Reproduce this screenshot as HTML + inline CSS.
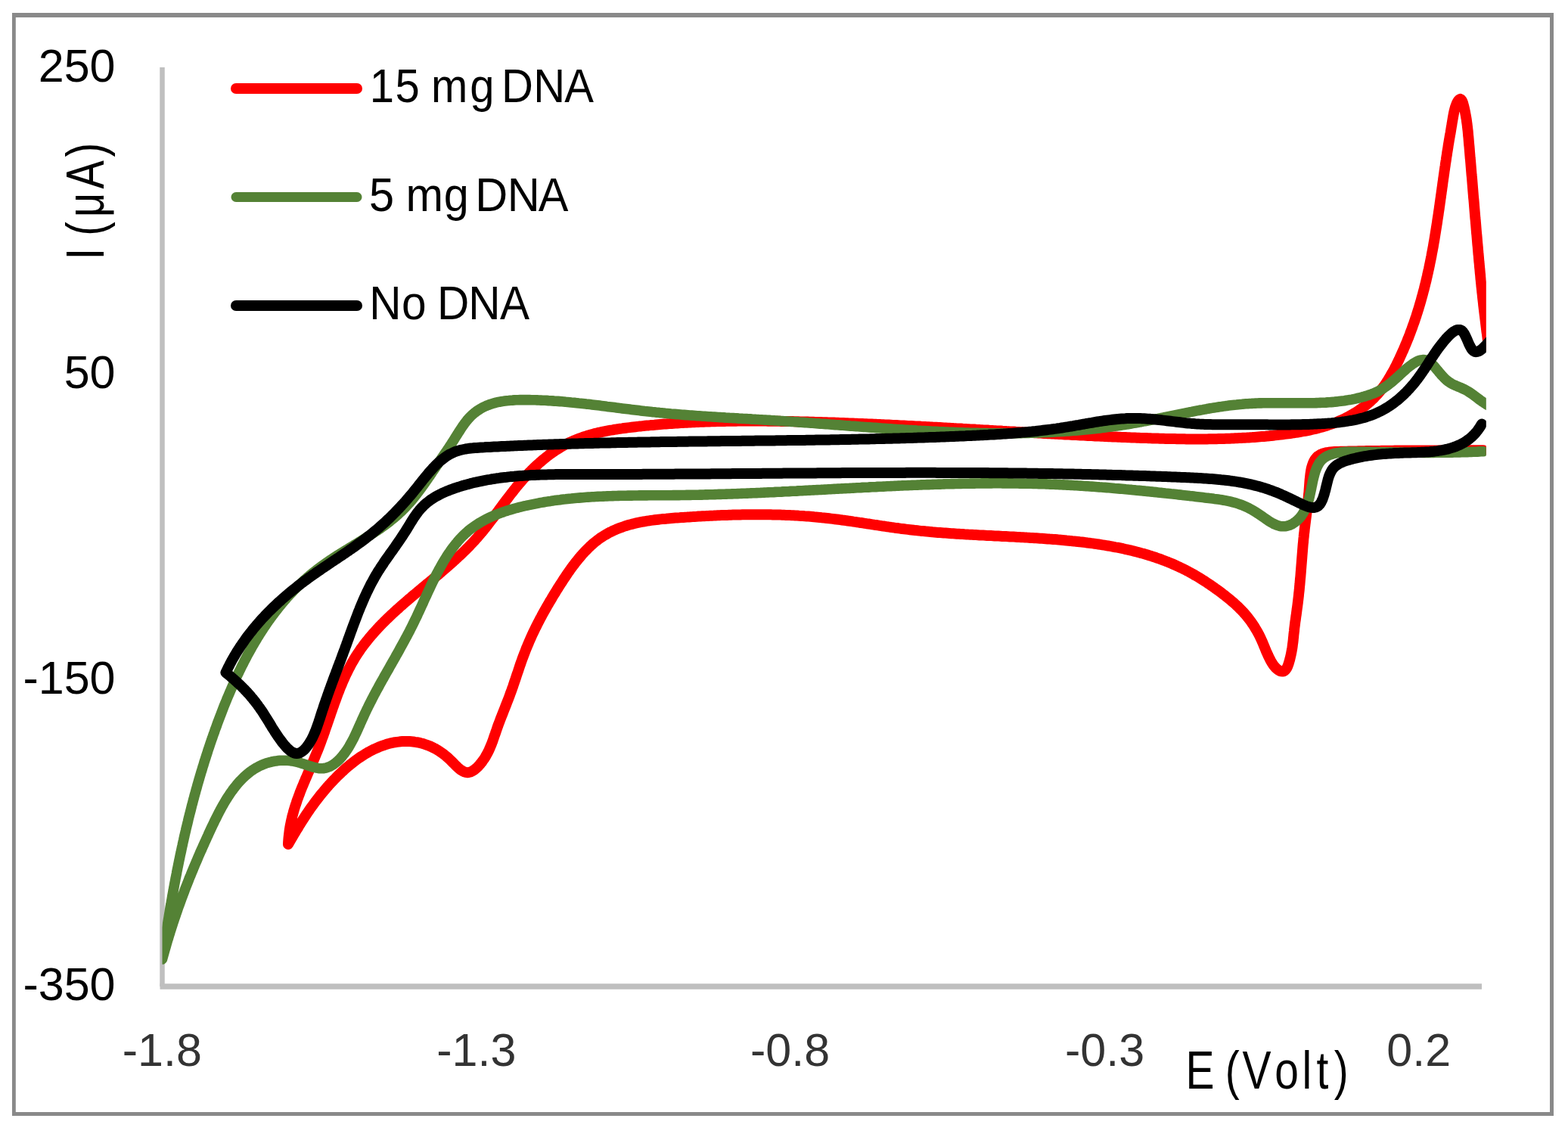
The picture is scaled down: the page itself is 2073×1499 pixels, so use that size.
<!DOCTYPE html>
<html><head><meta charset="utf-8"><title>Cyclic voltammogram</title>
<style>
html,body{margin:0;padding:0;background:#fff;}
svg{display:block;}
text{font-family:"Liberation Sans",Arial,sans-serif;}
.tk{font-size:61px;fill:#000;}
.tx{font-size:61px;fill:#333;}
.lg{font-size:63.5px;fill:#000;}
.ti{font-size:71.2px;fill:#000;}
</style></head><body>
<svg width="2073" height="1499" viewBox="0 0 2073 1499">
<rect x="0" y="0" width="2073" height="1499" fill="#fff"/>
<g fill="#898989"><rect x="16" y="17" width="2038" height="6"/><rect x="16" y="17" width="4.8" height="1458"/><rect x="2049" y="17" width="5" height="1458"/><rect x="16" y="1470" width="2038" height="5"/></g>
<defs><clipPath id="pa"><rect x="214.5" y="0" width="1750.3" height="1499"/></clipPath></defs>
<line x1="214.5" y1="89" x2="214.5" y2="1304" stroke="#bfbfbf" stroke-width="6.5"/>
<line x1="211.5" y1="1304" x2="1959" y2="1304" stroke="#bfbfbf" stroke-width="7.5"/>
<g clip-path="url(#pa)" fill="none" stroke-width="14" stroke-linejoin="round" stroke-linecap="round">
<path stroke="#ff0000" d="M1961.0 595.3 L1958.4 595.3 L1955.8 595.3 L1953.2 595.3 L1950.6 595.3 L1948.1 595.3 L1945.5 595.3 L1942.9 595.3 L1940.4 595.3 L1937.9 595.3 L1935.3 595.3 L1932.8 595.3 L1930.3 595.3 L1927.8 595.3 L1925.3 595.3 L1922.8 595.3 L1920.3 595.3 L1917.8 595.4 L1915.3 595.4 L1912.8 595.4 L1910.3 595.4 L1907.8 595.4 L1905.4 595.4 L1902.9 595.4 L1900.4 595.4 L1898.0 595.4 L1895.5 595.4 L1893.1 595.4 L1890.6 595.4 L1888.1 595.4 L1885.7 595.4 L1883.2 595.4 L1880.8 595.4 L1878.3 595.4 L1875.9 595.4 L1873.4 595.5 L1871.0 595.5 L1868.5 595.5 L1866.1 595.5 L1863.6 595.5 L1861.2 595.5 L1858.7 595.5 L1856.3 595.5 L1853.8 595.6 L1851.4 595.6 L1848.9 595.6 L1846.4 595.6 L1844.0 595.6 L1841.5 595.7 L1839.0 595.7 L1836.5 595.7 L1834.0 595.7 L1831.5 595.8 L1829.0 595.8 L1826.5 595.8 L1824.0 595.9 L1821.5 595.9 L1819.0 595.9 L1816.5 596.0 L1814.0 596.0 L1811.4 596.0 L1808.9 596.1 L1806.3 596.1 L1803.8 596.2 L1801.2 596.2 L1798.6 596.3 L1796.1 596.3 L1793.5 596.4 L1790.9 596.4 L1788.3 596.5 L1785.6 596.5 L1783.0 596.6 L1780.4 596.7 L1777.7 596.7 L1775.1 596.8 L1772.4 596.8 L1769.7 596.9 L1767.0 597.0 L1764.4 597.1 L1761.7 597.3 L1759.2 597.5 L1756.7 597.8 L1754.2 598.2 L1751.9 598.7 L1749.6 599.3 L1747.5 600.1 L1745.5 601.0 L1743.7 602.1 L1742.0 603.3 L1740.5 604.8 L1739.2 606.4 L1738.0 608.1 L1736.9 610.1 L1736.0 612.1 L1735.2 614.3 L1734.5 616.6 L1733.8 619.0 L1733.3 621.4 L1732.9 624.0 L1732.5 626.6 L1732.2 629.2 L1731.9 631.9 L1731.6 634.6 L1731.4 637.3 L1731.2 640.1 L1731.0 642.8 L1730.8 645.5 L1730.6 648.1 L1730.4 650.7 L1730.1 653.3 L1729.9 655.9 L1729.6 658.5 L1729.3 661.0 L1729.1 663.5 L1728.8 666.0 L1728.5 668.5 L1728.2 670.9 L1727.9 673.4 L1727.6 675.8 L1727.4 678.2 L1727.1 680.6 L1726.8 683.1 L1726.5 685.5 L1726.2 687.9 L1725.9 690.3 L1725.6 692.7 L1725.3 695.1 L1725.0 697.5 L1724.7 699.9 L1724.5 702.3 L1724.2 704.7 L1723.9 707.1 L1723.7 709.6 L1723.4 712.0 L1723.2 714.5 L1723.0 717.0 L1722.7 719.5 L1722.5 722.0 L1722.3 724.5 L1722.1 727.0 L1721.9 729.5 L1721.7 732.0 L1721.5 734.5 L1721.3 737.1 L1721.1 739.6 L1720.9 742.2 L1720.7 744.7 L1720.5 747.3 L1720.3 749.8 L1720.1 752.3 L1719.9 754.9 L1719.7 757.4 L1719.5 760.0 L1719.3 762.5 L1719.0 765.1 L1718.8 767.6 L1718.6 770.1 L1718.4 772.7 L1718.1 775.2 L1717.9 777.7 L1717.7 780.2 L1717.4 782.7 L1717.1 785.2 L1716.9 787.7 L1716.6 790.2 L1716.3 792.7 L1716.0 795.1 L1715.7 797.6 L1715.4 800.0 L1715.1 802.4 L1714.7 804.8 L1714.4 807.3 L1714.1 809.7 L1713.8 812.1 L1713.4 814.5 L1713.1 816.9 L1712.8 819.3 L1712.4 821.7 L1712.1 824.1 L1711.8 826.6 L1711.5 829.0 L1711.2 831.4 L1711.0 833.9 L1710.7 836.3 L1710.4 838.8 L1710.2 841.3 L1709.9 843.8 L1709.7 846.3 L1709.4 848.9 L1709.0 851.5 L1708.7 854.2 L1708.3 856.9 L1707.8 859.7 L1707.3 862.5 L1706.7 865.5 L1706.0 868.5 L1705.3 871.5 L1704.4 874.7 L1703.5 877.7 L1702.5 880.5 L1701.3 883.0 L1700.0 885.0 L1698.6 886.4 L1697.0 887.3 L1695.4 887.6 L1693.7 887.4 L1692.0 886.8 L1690.3 885.9 L1688.7 884.7 L1687.1 883.3 L1685.6 881.8 L1684.2 880.0 L1682.8 878.1 L1681.5 876.0 L1680.2 873.9 L1679.0 871.5 L1677.8 869.1 L1676.6 866.6 L1675.5 864.1 L1674.3 861.5 L1673.2 858.8 L1672.1 856.1 L1670.9 853.4 L1669.8 850.7 L1668.7 848.0 L1667.5 845.4 L1666.3 842.8 L1665.1 840.3 L1663.8 837.8 L1662.5 835.4 L1661.2 833.1 L1659.8 830.8 L1658.5 828.6 L1657.1 826.4 L1655.6 824.2 L1654.2 822.1 L1652.7 820.1 L1651.2 818.1 L1649.6 816.1 L1648.1 814.2 L1646.5 812.3 L1644.9 810.5 L1643.3 808.7 L1641.6 806.9 L1639.9 805.2 L1638.2 803.5 L1636.5 801.8 L1634.7 800.2 L1632.9 798.5 L1631.2 796.9 L1629.3 795.3 L1627.5 793.8 L1625.7 792.2 L1623.8 790.7 L1621.9 789.2 L1620.0 787.7 L1618.0 786.2 L1616.1 784.7 L1614.1 783.2 L1612.1 781.7 L1610.1 780.2 L1608.1 778.8 L1606.1 777.3 L1604.1 775.9 L1602.0 774.5 L1599.9 773.0 L1597.8 771.6 L1595.7 770.2 L1593.6 768.8 L1591.5 767.5 L1589.3 766.1 L1587.2 764.8 L1585.0 763.4 L1582.9 762.1 L1580.7 760.9 L1578.5 759.6 L1576.3 758.3 L1574.1 757.1 L1571.8 755.9 L1569.6 754.7 L1567.4 753.6 L1565.1 752.4 L1562.8 751.3 L1560.6 750.2 L1558.3 749.1 L1556.0 748.1 L1553.7 747.0 L1551.4 746.0 L1549.1 745.0 L1546.8 744.1 L1544.5 743.1 L1542.2 742.2 L1539.8 741.3 L1537.5 740.4 L1535.2 739.5 L1532.8 738.7 L1530.4 737.9 L1528.1 737.0 L1525.7 736.2 L1523.3 735.5 L1521.0 734.7 L1518.6 734.0 L1516.2 733.2 L1513.8 732.5 L1511.4 731.8 L1509.0 731.2 L1506.6 730.5 L1504.1 729.9 L1501.7 729.2 L1499.3 728.6 L1496.9 728.0 L1494.4 727.4 L1492.0 726.9 L1489.5 726.3 L1487.1 725.8 L1484.6 725.2 L1482.2 724.7 L1479.7 724.2 L1477.3 723.7 L1474.8 723.3 L1472.3 722.8 L1469.9 722.3 L1467.4 721.9 L1464.9 721.5 L1462.5 721.1 L1460.0 720.7 L1457.5 720.3 L1455.0 719.9 L1452.5 719.5 L1450.0 719.1 L1447.5 718.8 L1445.1 718.4 L1442.6 718.1 L1440.1 717.8 L1437.6 717.5 L1435.1 717.1 L1432.6 716.8 L1430.1 716.5 L1427.6 716.3 L1425.1 716.0 L1422.6 715.7 L1420.1 715.4 L1417.6 715.2 L1415.1 714.9 L1412.6 714.7 L1410.1 714.5 L1407.6 714.2 L1405.1 714.0 L1402.6 713.8 L1400.1 713.6 L1397.6 713.3 L1395.1 713.1 L1392.6 712.9 L1390.1 712.7 L1387.6 712.6 L1385.1 712.4 L1382.6 712.2 L1380.1 712.0 L1377.6 711.8 L1375.1 711.7 L1372.6 711.5 L1370.1 711.3 L1367.6 711.2 L1365.1 711.0 L1362.6 710.9 L1360.1 710.7 L1357.6 710.6 L1355.1 710.4 L1352.6 710.3 L1350.1 710.2 L1347.6 710.0 L1345.1 709.9 L1342.6 709.7 L1340.1 709.6 L1337.6 709.5 L1335.1 709.4 L1332.6 709.2 L1330.1 709.1 L1327.6 709.0 L1325.1 708.9 L1322.6 708.7 L1320.1 708.6 L1317.6 708.5 L1315.1 708.4 L1312.6 708.2 L1310.1 708.1 L1307.6 708.0 L1305.1 707.9 L1302.6 707.7 L1300.1 707.6 L1297.6 707.5 L1295.1 707.4 L1292.6 707.2 L1290.1 707.1 L1287.6 707.0 L1285.1 706.8 L1282.6 706.7 L1280.1 706.6 L1277.6 706.4 L1275.1 706.3 L1272.6 706.1 L1270.1 706.0 L1267.6 705.8 L1265.1 705.7 L1262.7 705.5 L1260.2 705.3 L1257.7 705.2 L1255.2 705.0 L1252.7 704.8 L1250.2 704.6 L1247.7 704.5 L1245.2 704.3 L1242.7 704.1 L1240.2 703.9 L1237.7 703.7 L1235.2 703.5 L1232.7 703.3 L1230.2 703.0 L1227.8 702.8 L1225.3 702.6 L1222.8 702.3 L1220.3 702.1 L1217.8 701.9 L1215.3 701.6 L1212.8 701.3 L1210.3 701.1 L1207.9 700.8 L1205.4 700.5 L1202.9 700.2 L1200.4 699.9 L1197.9 699.6 L1195.4 699.3 L1192.9 699.0 L1190.5 698.7 L1188.0 698.3 L1185.5 698.0 L1183.0 697.7 L1180.5 697.3 L1178.1 697.0 L1175.6 696.6 L1173.1 696.3 L1170.6 695.9 L1168.1 695.5 L1165.6 695.2 L1163.2 694.8 L1160.7 694.4 L1158.2 694.0 L1155.7 693.7 L1153.3 693.3 L1150.8 692.9 L1148.3 692.5 L1145.8 692.2 L1143.3 691.8 L1140.9 691.4 L1138.4 691.0 L1135.9 690.7 L1133.4 690.3 L1130.9 689.9 L1128.5 689.6 L1126.0 689.2 L1123.5 688.8 L1121.0 688.5 L1118.5 688.1 L1116.1 687.8 L1113.6 687.5 L1111.1 687.1 L1108.6 686.8 L1106.1 686.5 L1103.7 686.2 L1101.2 685.9 L1098.7 685.6 L1096.2 685.3 L1093.7 685.0 L1091.2 684.7 L1088.8 684.4 L1086.3 684.2 L1083.8 683.9 L1081.3 683.7 L1078.8 683.5 L1076.3 683.3 L1073.8 683.0 L1071.4 682.8 L1068.9 682.6 L1066.4 682.4 L1063.9 682.3 L1061.4 682.1 L1058.9 681.9 L1056.4 681.8 L1053.9 681.6 L1051.4 681.5 L1048.9 681.3 L1046.4 681.2 L1043.9 681.1 L1041.5 681.0 L1039.0 680.9 L1036.5 680.8 L1034.0 680.7 L1031.5 680.6 L1029.0 680.5 L1026.5 680.5 L1024.0 680.4 L1021.5 680.4 L1019.0 680.3 L1016.5 680.3 L1014.0 680.2 L1011.5 680.2 L1009.0 680.2 L1006.5 680.2 L1004.0 680.2 L1001.5 680.2 L999.0 680.2 L996.5 680.2 L994.0 680.2 L991.5 680.2 L988.9 680.2 L986.4 680.3 L983.9 680.3 L981.4 680.3 L978.9 680.4 L976.4 680.4 L973.9 680.5 L971.4 680.6 L968.9 680.6 L966.4 680.7 L963.8 680.8 L961.3 680.9 L958.8 680.9 L956.3 681.0 L953.8 681.1 L951.3 681.2 L948.8 681.3 L946.2 681.4 L943.7 681.6 L941.2 681.7 L938.7 681.8 L936.2 681.9 L933.6 682.1 L931.1 682.2 L928.6 682.3 L926.1 682.5 L923.6 682.6 L921.0 682.8 L918.5 682.9 L916.0 683.1 L913.5 683.2 L910.9 683.4 L908.4 683.6 L905.9 683.7 L903.3 683.9 L900.8 684.1 L898.3 684.3 L895.7 684.4 L893.2 684.6 L890.7 684.8 L888.2 685.0 L885.6 685.2 L883.1 685.4 L880.6 685.7 L878.1 685.9 L875.5 686.1 L873.0 686.4 L870.5 686.7 L868.0 687.0 L865.5 687.3 L863.1 687.6 L860.6 687.9 L858.1 688.3 L855.6 688.7 L853.2 689.1 L850.7 689.5 L848.3 689.9 L845.9 690.4 L843.5 690.9 L841.1 691.4 L838.7 692.0 L836.3 692.6 L834.0 693.2 L831.6 693.8 L829.3 694.5 L827.0 695.2 L824.7 696.0 L822.4 696.8 L820.1 697.6 L817.9 698.4 L815.7 699.3 L813.4 700.3 L811.2 701.2 L809.1 702.3 L806.9 703.3 L804.8 704.4 L802.7 705.6 L800.6 706.8 L798.5 708.0 L796.5 709.3 L794.5 710.6 L792.5 712.0 L790.5 713.5 L788.6 715.0 L786.6 716.5 L784.7 718.1 L782.9 719.7 L781.0 721.4 L779.2 723.1 L777.4 724.9 L775.6 726.7 L773.8 728.5 L772.1 730.3 L770.4 732.2 L768.7 734.1 L767.0 736.1 L765.3 738.1 L763.7 740.1 L762.1 742.1 L760.4 744.2 L758.9 746.2 L757.3 748.3 L755.7 750.4 L754.2 752.5 L752.7 754.7 L751.2 756.8 L749.7 759.0 L748.2 761.2 L746.8 763.3 L745.3 765.5 L743.9 767.7 L742.5 769.9 L741.1 772.1 L739.7 774.3 L738.3 776.4 L737.0 778.6 L735.6 780.8 L734.3 783.0 L732.9 785.1 L731.6 787.3 L730.3 789.4 L729.1 791.6 L727.8 793.7 L726.5 795.8 L725.3 798.0 L724.0 800.1 L722.8 802.2 L721.6 804.4 L720.4 806.5 L719.2 808.7 L718.0 810.8 L716.8 812.9 L715.7 815.1 L714.5 817.2 L713.4 819.4 L712.3 821.5 L711.2 823.7 L710.1 825.8 L709.0 828.0 L707.9 830.2 L706.9 832.3 L705.8 834.5 L704.8 836.7 L703.7 838.9 L702.7 841.1 L701.7 843.4 L700.7 845.6 L699.7 847.8 L698.8 850.1 L697.8 852.4 L696.9 854.6 L695.9 856.9 L695.0 859.2 L694.1 861.6 L693.2 863.9 L692.3 866.3 L691.4 868.6 L690.5 871.0 L689.7 873.4 L688.8 875.8 L688.0 878.2 L687.1 880.7 L686.3 883.1 L685.5 885.6 L684.7 888.0 L683.8 890.5 L683.0 892.9 L682.2 895.4 L681.4 897.8 L680.5 900.3 L679.7 902.7 L678.9 905.1 L678.1 907.6 L677.2 910.0 L676.4 912.4 L675.5 914.8 L674.6 917.1 L673.8 919.5 L672.9 921.9 L672.0 924.2 L671.1 926.5 L670.2 928.8 L669.3 931.1 L668.4 933.4 L667.5 935.7 L666.6 938.0 L665.7 940.3 L664.8 942.6 L663.9 944.9 L663.0 947.1 L662.1 949.4 L661.2 951.7 L660.4 954.0 L659.5 956.3 L658.6 958.6 L657.8 960.9 L657.0 963.2 L656.2 965.6 L655.4 967.9 L654.6 970.3 L653.7 972.6 L652.9 975.0 L652.1 977.4 L651.3 979.7 L650.4 982.1 L649.5 984.4 L648.5 986.8 L647.5 989.1 L646.5 991.4 L645.4 993.7 L644.2 996.0 L643.0 998.2 L641.7 1000.5 L640.3 1002.7 L638.8 1004.8 L637.3 1007.0 L635.6 1009.1 L633.9 1011.1 L632.0 1013.2 L630.1 1015.1 L628.0 1016.8 L626.0 1018.3 L623.9 1019.6 L621.8 1020.5 L619.7 1021.0 L617.7 1021.2 L615.7 1020.9 L613.7 1020.3 L611.7 1019.3 L609.7 1018.1 L607.8 1016.7 L605.8 1015.0 L603.9 1013.2 L601.9 1011.3 L600.0 1009.3 L598.0 1007.3 L596.0 1005.3 L593.9 1003.3 L591.9 1001.4 L589.8 999.6 L587.7 997.9 L585.6 996.2 L583.4 994.7 L581.2 993.2 L579.0 991.8 L576.8 990.5 L574.5 989.2 L572.2 988.1 L570.0 987.0 L567.7 986.0 L565.3 985.1 L563.0 984.3 L560.7 983.5 L558.3 982.8 L555.9 982.2 L553.6 981.7 L551.2 981.2 L548.8 980.9 L546.4 980.5 L544.0 980.3 L541.6 980.1 L539.2 980.0 L536.7 980.0 L534.3 980.0 L531.9 980.1 L529.5 980.3 L527.1 980.6 L524.7 980.9 L522.3 981.2 L520.0 981.7 L517.6 982.2 L515.2 982.7 L512.9 983.3 L510.5 984.0 L508.2 984.8 L505.9 985.6 L503.5 986.4 L501.2 987.3 L499.0 988.3 L496.7 989.3 L494.4 990.3 L492.2 991.4 L489.9 992.6 L487.7 993.8 L485.5 995.1 L483.3 996.3 L481.2 997.7 L479.0 999.1 L476.8 1000.5 L474.7 1001.9 L472.6 1003.4 L470.5 1004.9 L468.4 1006.5 L466.4 1008.1 L464.3 1009.7 L462.3 1011.3 L460.3 1013.0 L458.3 1014.7 L456.3 1016.4 L454.4 1018.2 L452.4 1020.0 L450.5 1021.8 L448.6 1023.6 L446.7 1025.4 L444.9 1027.3 L443.1 1029.1 L441.2 1031.0 L439.5 1032.9 L437.7 1034.8 L435.9 1036.7 L434.2 1038.6 L432.5 1040.5 L430.8 1042.5 L429.2 1044.4 L427.6 1046.4 L425.9 1048.3 L424.4 1050.2 L422.8 1052.2 L421.3 1054.1 L419.8 1056.0 L418.3 1058.0 L416.8 1059.9 L415.4 1061.8 L414.0 1063.8 L412.6 1065.7 L411.2 1067.6 L409.8 1069.6 L408.5 1071.5 L407.1 1073.5 L405.8 1075.4 L404.5 1077.4 L403.2 1079.4 L401.9 1081.4 L400.6 1083.4 L399.3 1085.4 L398.0 1087.4 L396.7 1089.5 L395.4 1091.6 L394.2 1093.7 L392.9 1095.8 L391.6 1097.9 L390.3 1100.1 L389.0 1102.3 L387.7 1104.5 L386.4 1106.7 L385.0 1109.0 L383.7 1111.3 L382.4 1113.6 L381.0 1116.0 L381.1 1113.3 L381.3 1110.7 L381.5 1108.0 L381.8 1105.4 L382.1 1102.8 L382.4 1100.2 L382.7 1097.7 L383.1 1095.2 L383.5 1092.6 L384.0 1090.1 L384.5 1087.7 L385.0 1085.2 L385.6 1082.8 L386.1 1080.3 L386.7 1077.9 L387.4 1075.5 L388.0 1073.1 L388.7 1070.8 L389.4 1068.4 L390.1 1066.1 L390.9 1063.7 L391.7 1061.4 L392.4 1059.1 L393.2 1056.8 L394.1 1054.5 L394.9 1052.2 L395.8 1049.9 L396.6 1047.6 L397.5 1045.3 L398.4 1043.1 L399.3 1040.8 L400.3 1038.5 L401.2 1036.3 L402.1 1034.0 L403.1 1031.8 L404.0 1029.5 L405.0 1027.3 L406.0 1025.0 L406.9 1022.8 L407.9 1020.5 L408.9 1018.3 L409.9 1016.0 L410.8 1013.8 L411.8 1011.5 L412.8 1009.3 L413.8 1007.0 L414.7 1004.7 L415.7 1002.4 L416.6 1000.1 L417.6 997.8 L418.5 995.5 L419.5 993.2 L420.4 990.9 L421.3 988.6 L422.2 986.2 L423.1 983.9 L424.0 981.5 L424.9 979.1 L425.7 976.7 L426.6 974.4 L427.5 972.0 L428.3 969.6 L429.2 967.2 L430.0 964.7 L430.8 962.3 L431.7 959.9 L432.5 957.5 L433.3 955.1 L434.2 952.6 L435.0 950.2 L435.8 947.8 L436.7 945.3 L437.5 942.9 L438.3 940.5 L439.2 938.1 L440.0 935.6 L440.9 933.2 L441.7 930.8 L442.6 928.4 L443.5 926.0 L444.4 923.6 L445.2 921.2 L446.1 918.8 L447.0 916.4 L448.0 914.0 L448.9 911.6 L449.8 909.3 L450.8 906.9 L451.8 904.6 L452.7 902.2 L453.7 899.9 L454.8 897.6 L455.8 895.3 L456.8 893.0 L457.9 890.7 L459.0 888.5 L460.1 886.2 L461.2 884.0 L462.4 881.8 L463.5 879.6 L464.7 877.4 L465.9 875.3 L467.2 873.1 L468.4 871.0 L469.7 868.9 L471.0 866.8 L472.4 864.7 L473.7 862.7 L475.1 860.7 L476.5 858.6 L477.9 856.6 L479.4 854.6 L480.8 852.7 L482.3 850.7 L483.8 848.8 L485.3 846.9 L486.9 845.0 L488.4 843.1 L490.0 841.2 L491.6 839.3 L493.2 837.5 L494.9 835.6 L496.5 833.8 L498.2 832.0 L499.8 830.2 L501.5 828.4 L503.2 826.6 L505.0 824.8 L506.7 823.1 L508.4 821.3 L510.2 819.6 L512.0 817.8 L513.8 816.1 L515.6 814.4 L517.4 812.7 L519.2 811.0 L521.0 809.3 L522.9 807.6 L524.7 805.9 L526.6 804.3 L528.4 802.6 L530.3 800.9 L532.2 799.3 L534.1 797.6 L536.0 796.0 L537.9 794.4 L539.8 792.7 L541.7 791.1 L543.6 789.5 L545.5 787.8 L547.4 786.2 L549.4 784.6 L551.3 783.0 L553.2 781.4 L555.2 779.8 L557.1 778.2 L559.0 776.5 L561.0 774.9 L562.9 773.3 L564.8 771.7 L566.8 770.1 L568.7 768.5 L570.7 766.9 L572.6 765.3 L574.5 763.6 L576.5 762.0 L578.4 760.4 L580.3 758.8 L582.2 757.2 L584.1 755.5 L586.0 753.9 L587.9 752.2 L589.8 750.6 L591.7 749.0 L593.6 747.3 L595.5 745.6 L597.4 744.0 L599.2 742.3 L601.1 740.6 L602.9 738.9 L604.8 737.2 L606.6 735.5 L608.4 733.8 L610.2 732.1 L612.0 730.4 L613.8 728.6 L615.6 726.9 L617.3 725.1 L619.1 723.4 L620.8 721.6 L622.5 719.8 L624.2 718.0 L625.9 716.2 L627.6 714.4 L629.2 712.5 L630.9 710.7 L632.5 708.8 L634.1 706.9 L635.7 705.1 L637.3 703.2 L638.9 701.3 L640.4 699.3 L642.0 697.4 L643.5 695.5 L645.0 693.5 L646.5 691.6 L648.0 689.6 L649.5 687.6 L651.0 685.7 L652.5 683.7 L654.0 681.7 L655.5 679.7 L657.0 677.7 L658.4 675.8 L659.9 673.8 L661.4 671.8 L662.9 669.8 L664.3 667.8 L665.8 665.8 L667.3 663.8 L668.8 661.8 L670.3 659.8 L671.8 657.9 L673.3 655.9 L674.8 653.9 L676.3 651.9 L677.9 650.0 L679.4 648.0 L681.0 646.1 L682.5 644.1 L684.1 642.2 L685.7 640.3 L687.3 638.4 L689.0 636.5 L690.6 634.6 L692.3 632.7 L694.0 630.8 L695.7 629.0 L697.4 627.2 L699.1 625.3 L700.9 623.5 L702.6 621.7 L704.4 620.0 L706.2 618.2 L708.0 616.5 L709.9 614.8 L711.7 613.1 L713.6 611.4 L715.5 609.8 L717.4 608.2 L719.3 606.6 L721.3 605.0 L723.3 603.4 L725.2 601.9 L727.2 600.4 L729.3 599.0 L731.3 597.6 L733.3 596.2 L735.4 594.8 L737.5 593.5 L739.6 592.2 L741.7 590.9 L743.9 589.7 L746.0 588.5 L748.2 587.3 L750.4 586.2 L752.6 585.1 L754.9 584.0 L757.1 583.0 L759.4 582.1 L761.7 581.1 L763.9 580.2 L766.3 579.3 L768.6 578.5 L770.9 577.7 L773.3 576.9 L775.6 576.2 L778.0 575.4 L780.4 574.7 L782.8 574.1 L785.2 573.4 L787.6 572.8 L790.1 572.2 L792.5 571.7 L795.0 571.1 L797.4 570.6 L799.9 570.1 L802.4 569.6 L804.8 569.1 L807.3 568.7 L809.8 568.3 L812.3 567.8 L814.8 567.5 L817.3 567.1 L819.8 566.7 L822.4 566.4 L824.9 566.0 L827.4 565.7 L829.9 565.4 L832.4 565.1 L835.0 564.8 L837.5 564.5 L840.0 564.2 L842.5 563.9 L845.0 563.6 L847.6 563.4 L850.1 563.1 L852.6 562.8 L855.1 562.6 L857.6 562.4 L860.2 562.1 L862.7 561.9 L865.2 561.7 L867.7 561.4 L870.2 561.2 L872.7 561.0 L875.3 560.8 L877.8 560.6 L880.3 560.4 L882.8 560.2 L885.3 560.1 L887.8 559.9 L890.3 559.7 L892.8 559.5 L895.3 559.4 L897.9 559.2 L900.4 559.1 L902.9 558.9 L905.4 558.8 L907.9 558.7 L910.4 558.5 L912.9 558.4 L915.4 558.3 L917.9 558.2 L920.4 558.1 L922.9 558.0 L925.4 557.8 L927.9 557.8 L930.4 557.7 L932.9 557.6 L935.4 557.5 L937.9 557.4 L940.4 557.3 L942.9 557.3 L945.4 557.2 L947.9 557.1 L950.4 557.1 L952.9 557.0 L955.4 556.9 L957.9 556.9 L960.4 556.8 L962.9 556.8 L965.4 556.8 L967.9 556.7 L970.4 556.7 L972.9 556.7 L975.4 556.6 L977.9 556.6 L980.4 556.6 L982.9 556.6 L985.4 556.6 L987.9 556.6 L990.4 556.6 L992.9 556.6 L995.4 556.6 L997.9 556.6 L1000.4 556.6 L1002.9 556.6 L1005.4 556.6 L1007.9 556.6 L1010.4 556.6 L1012.9 556.6 L1015.4 556.7 L1017.9 556.7 L1020.4 556.7 L1022.9 556.7 L1025.4 556.8 L1027.9 556.8 L1030.4 556.8 L1032.9 556.9 L1035.4 556.9 L1037.9 557.0 L1040.4 557.0 L1042.9 557.0 L1045.4 557.1 L1047.9 557.1 L1050.3 557.2 L1052.8 557.2 L1055.3 557.3 L1057.8 557.4 L1060.3 557.4 L1062.8 557.5 L1065.3 557.5 L1067.8 557.6 L1070.3 557.7 L1072.8 557.7 L1075.3 557.8 L1077.8 557.9 L1080.3 557.9 L1082.8 558.0 L1085.3 558.1 L1087.8 558.2 L1090.3 558.2 L1092.8 558.3 L1095.3 558.4 L1097.8 558.5 L1100.3 558.6 L1102.8 558.6 L1105.3 558.7 L1107.8 558.8 L1110.3 558.9 L1112.8 559.0 L1115.3 559.1 L1117.8 559.2 L1120.3 559.3 L1122.8 559.4 L1125.3 559.5 L1127.8 559.6 L1130.3 559.7 L1132.8 559.8 L1135.3 559.9 L1137.8 560.0 L1140.3 560.1 L1142.8 560.2 L1145.3 560.3 L1147.8 560.4 L1150.3 560.5 L1152.8 560.6 L1155.3 560.7 L1157.8 560.8 L1160.3 560.9 L1162.8 561.0 L1165.3 561.2 L1167.8 561.3 L1170.3 561.4 L1172.8 561.5 L1175.3 561.6 L1177.8 561.7 L1180.3 561.9 L1182.8 562.0 L1185.3 562.1 L1187.8 562.2 L1190.3 562.4 L1192.8 562.5 L1195.3 562.6 L1197.8 562.7 L1200.3 562.9 L1202.8 563.0 L1205.3 563.1 L1207.8 563.2 L1210.3 563.4 L1212.8 563.5 L1215.3 563.6 L1217.8 563.8 L1220.3 563.9 L1222.8 564.0 L1225.3 564.2 L1227.8 564.3 L1230.3 564.4 L1232.8 564.6 L1235.3 564.7 L1237.8 564.8 L1240.3 565.0 L1242.8 565.1 L1245.3 565.2 L1247.8 565.4 L1250.3 565.5 L1252.8 565.7 L1255.3 565.8 L1257.8 565.9 L1260.3 566.1 L1262.8 566.2 L1265.3 566.4 L1267.8 566.5 L1270.4 566.6 L1272.9 566.8 L1275.4 566.9 L1277.9 567.1 L1280.4 567.2 L1282.9 567.4 L1285.4 567.5 L1287.9 567.6 L1290.4 567.8 L1292.9 567.9 L1295.4 568.1 L1297.9 568.2 L1300.4 568.4 L1302.9 568.5 L1305.4 568.6 L1307.9 568.8 L1310.4 568.9 L1312.9 569.1 L1315.4 569.2 L1317.9 569.4 L1320.4 569.5 L1322.9 569.6 L1325.4 569.8 L1327.9 569.9 L1330.4 570.1 L1332.9 570.2 L1335.4 570.4 L1337.9 570.5 L1340.4 570.6 L1342.9 570.8 L1345.4 570.9 L1348.0 571.1 L1350.5 571.2 L1353.0 571.4 L1355.5 571.5 L1358.0 571.6 L1360.5 571.8 L1363.0 571.9 L1365.5 572.1 L1368.0 572.2 L1370.5 572.3 L1373.0 572.5 L1375.5 572.6 L1378.0 572.7 L1380.5 572.9 L1383.0 573.0 L1385.5 573.2 L1388.0 573.3 L1390.5 573.4 L1393.0 573.6 L1395.5 573.7 L1398.0 573.8 L1400.5 574.0 L1403.0 574.1 L1405.5 574.2 L1408.1 574.4 L1410.6 574.5 L1413.1 574.6 L1415.6 574.7 L1418.1 574.9 L1420.6 575.0 L1423.1 575.1 L1425.6 575.3 L1428.1 575.4 L1430.6 575.5 L1433.1 575.6 L1435.6 575.8 L1438.1 575.9 L1440.6 576.0 L1443.1 576.1 L1445.6 576.2 L1448.1 576.4 L1450.6 576.5 L1453.1 576.6 L1455.6 576.7 L1458.1 576.8 L1460.6 576.9 L1463.2 577.0 L1465.7 577.2 L1468.2 577.3 L1470.7 577.4 L1473.2 577.5 L1475.7 577.6 L1478.2 577.7 L1480.7 577.8 L1483.2 577.9 L1485.7 578.0 L1488.2 578.1 L1490.7 578.2 L1493.2 578.3 L1495.7 578.4 L1498.2 578.5 L1500.7 578.6 L1503.2 578.7 L1505.7 578.8 L1508.2 578.9 L1510.7 579.0 L1513.3 579.1 L1515.8 579.1 L1518.3 579.2 L1520.8 579.3 L1523.3 579.4 L1525.8 579.5 L1528.3 579.5 L1530.8 579.6 L1533.3 579.7 L1535.8 579.8 L1538.3 579.8 L1540.8 579.9 L1543.3 579.9 L1545.8 580.0 L1548.3 580.0 L1550.8 580.1 L1553.3 580.1 L1555.8 580.2 L1558.3 580.2 L1560.8 580.3 L1563.3 580.3 L1565.8 580.3 L1568.3 580.4 L1570.8 580.4 L1573.3 580.4 L1575.9 580.4 L1578.4 580.4 L1580.9 580.4 L1583.4 580.4 L1585.9 580.4 L1588.4 580.4 L1590.9 580.4 L1593.4 580.4 L1595.9 580.4 L1598.4 580.3 L1600.9 580.3 L1603.4 580.3 L1605.9 580.2 L1608.4 580.2 L1610.9 580.1 L1613.4 580.0 L1615.9 580.0 L1618.4 579.9 L1620.9 579.8 L1623.3 579.7 L1625.8 579.7 L1628.3 579.6 L1630.8 579.5 L1633.3 579.3 L1635.8 579.2 L1638.3 579.1 L1640.8 579.0 L1643.3 578.8 L1645.8 578.7 L1648.3 578.6 L1650.8 578.4 L1653.3 578.2 L1655.8 578.1 L1658.3 577.9 L1660.8 577.7 L1663.3 577.5 L1665.8 577.3 L1668.2 577.1 L1670.7 576.9 L1673.2 576.7 L1675.7 576.4 L1678.2 576.2 L1680.7 575.9 L1683.2 575.7 L1685.7 575.4 L1688.2 575.1 L1690.6 574.8 L1693.1 574.6 L1695.6 574.3 L1698.1 573.9 L1700.6 573.6 L1703.1 573.3 L1705.5 573.0 L1708.0 572.6 L1710.5 572.2 L1713.0 571.9 L1715.5 571.5 L1717.9 571.1 L1720.4 570.6 L1722.9 570.2 L1725.3 569.8 L1727.8 569.3 L1730.2 568.8 L1732.7 568.3 L1735.1 567.7 L1737.6 567.2 L1740.0 566.6 L1742.4 566.0 L1744.8 565.3 L1747.2 564.7 L1749.6 564.0 L1752.0 563.3 L1754.4 562.5 L1756.8 561.7 L1759.2 560.9 L1761.5 560.1 L1763.9 559.2 L1766.2 558.3 L1768.5 557.3 L1770.9 556.4 L1773.2 555.3 L1775.4 554.3 L1777.7 553.2 L1780.0 552.1 L1782.2 550.9 L1784.4 549.8 L1786.6 548.5 L1788.8 547.3 L1790.9 546.0 L1793.1 544.7 L1795.2 543.3 L1797.2 541.9 L1799.3 540.5 L1801.3 539.1 L1803.3 537.6 L1805.3 536.0 L1807.2 534.5 L1809.1 532.9 L1811.0 531.2 L1812.8 529.6 L1814.6 527.8 L1816.4 526.1 L1818.1 524.3 L1819.8 522.5 L1821.5 520.7 L1823.1 518.8 L1824.7 516.8 L1826.2 514.9 L1827.7 512.9 L1829.2 510.9 L1830.7 508.9 L1832.1 506.8 L1833.5 504.7 L1834.8 502.6 L1836.1 500.5 L1837.4 498.3 L1838.7 496.1 L1839.9 493.9 L1841.2 491.7 L1842.4 489.5 L1843.6 487.3 L1844.7 485.0 L1845.9 482.8 L1847.0 480.5 L1848.1 478.2 L1849.2 476.0 L1850.3 473.7 L1851.3 471.4 L1852.4 469.1 L1853.4 466.8 L1854.4 464.5 L1855.5 462.3 L1856.4 460.0 L1857.4 457.7 L1858.4 455.3 L1859.4 453.0 L1860.3 450.7 L1861.2 448.4 L1862.2 446.1 L1863.1 443.8 L1864.0 441.4 L1864.8 439.1 L1865.7 436.8 L1866.6 434.4 L1867.4 432.1 L1868.2 429.8 L1869.1 427.4 L1869.9 425.1 L1870.7 422.7 L1871.5 420.3 L1872.3 418.0 L1873.0 415.6 L1873.8 413.2 L1874.5 410.9 L1875.3 408.5 L1876.0 406.1 L1876.7 403.7 L1877.4 401.4 L1878.1 399.0 L1878.8 396.6 L1879.4 394.2 L1880.1 391.8 L1880.8 389.4 L1881.4 387.0 L1882.0 384.6 L1882.7 382.2 L1883.3 379.7 L1883.9 377.3 L1884.5 374.9 L1885.1 372.5 L1885.7 370.0 L1886.2 367.6 L1886.8 365.2 L1887.3 362.7 L1887.9 360.3 L1888.4 357.8 L1889.0 355.4 L1889.5 352.9 L1890.0 350.5 L1890.5 348.0 L1891.0 345.6 L1891.5 343.1 L1892.0 340.6 L1892.5 338.2 L1892.9 335.7 L1893.4 333.2 L1893.9 330.7 L1894.3 328.3 L1894.8 325.8 L1895.2 323.3 L1895.6 320.8 L1896.1 318.3 L1896.5 315.8 L1896.9 313.3 L1897.3 310.8 L1897.7 308.3 L1898.1 305.8 L1898.5 303.3 L1898.9 300.8 L1899.3 298.3 L1899.7 295.8 L1900.1 293.3 L1900.4 290.8 L1900.8 288.3 L1901.2 285.8 L1901.6 283.3 L1901.9 280.8 L1902.3 278.3 L1902.7 275.8 L1903.0 273.3 L1903.4 270.8 L1903.7 268.3 L1904.1 265.8 L1904.4 263.3 L1904.8 260.8 L1905.1 258.3 L1905.5 255.8 L1905.8 253.4 L1906.2 250.9 L1906.5 248.4 L1906.9 245.9 L1907.2 243.4 L1907.5 241.0 L1907.9 238.5 L1908.2 236.0 L1908.6 233.6 L1908.9 231.1 L1909.3 228.6 L1909.6 226.2 L1910.0 223.7 L1910.3 221.3 L1910.7 218.9 L1911.0 216.4 L1911.4 214.0 L1911.8 211.6 L1912.1 209.1 L1912.5 206.7 L1912.9 204.3 L1913.2 201.9 L1913.6 199.5 L1914.0 197.1 L1914.4 194.7 L1914.7 192.3 L1915.1 190.0 L1915.5 187.6 L1915.9 185.2 L1916.3 182.9 L1916.7 180.5 L1917.1 178.1 L1917.6 175.7 L1918.0 173.2 L1918.4 170.7 L1918.8 168.1 L1919.3 165.4 L1919.7 162.6 L1920.2 159.7 L1920.7 156.8 L1921.2 153.8 L1921.8 150.7 L1922.4 147.7 L1923.1 144.8 L1923.9 141.9 L1924.9 139.1 L1925.9 136.6 L1927.1 134.3 L1928.2 132.6 L1929.4 131.4 L1930.6 130.9 L1931.6 131.4 L1932.6 132.7 L1933.5 134.6 L1934.3 136.9 L1935.0 139.6 L1935.7 142.3 L1936.3 145.0 L1936.9 147.7 L1937.4 150.4 L1937.9 153.0 L1938.3 155.6 L1938.8 158.3 L1939.1 160.9 L1939.5 163.5 L1939.8 166.0 L1940.1 168.6 L1940.4 171.2 L1940.7 173.7 L1940.9 176.3 L1941.1 178.8 L1941.4 181.3 L1941.6 183.8 L1941.8 186.4 L1942.0 188.9 L1942.2 191.4 L1942.5 193.9 L1942.7 196.4 L1942.9 199.0 L1943.1 201.5 L1943.3 204.0 L1943.5 206.5 L1943.7 209.0 L1944.0 211.5 L1944.2 214.0 L1944.4 216.5 L1944.6 219.0 L1944.8 221.5 L1945.0 224.0 L1945.2 226.5 L1945.4 229.0 L1945.6 231.5 L1945.9 234.0 L1946.1 236.4 L1946.3 238.9 L1946.5 241.4 L1946.7 243.9 L1946.9 246.4 L1947.1 248.9 L1947.3 251.4 L1947.5 253.8 L1947.7 256.3 L1947.9 258.8 L1948.1 261.3 L1948.4 263.8 L1948.6 266.3 L1948.8 268.7 L1949.0 271.2 L1949.2 273.7 L1949.4 276.2 L1949.6 278.7 L1949.8 281.1 L1950.0 283.6 L1950.2 286.1 L1950.4 288.6 L1950.7 291.1 L1950.9 293.6 L1951.1 296.0 L1951.3 298.5 L1951.5 301.0 L1951.7 303.5 L1951.9 306.0 L1952.1 308.5 L1952.4 311.0 L1952.6 313.4 L1952.8 315.9 L1953.0 318.4 L1953.2 320.9 L1953.4 323.4 L1953.7 325.9 L1953.9 328.4 L1954.1 330.9 L1954.3 333.4 L1954.5 335.9 L1954.8 338.4 L1955.0 340.9 L1955.2 343.4 L1955.4 345.9 L1955.7 348.4 L1955.9 350.9 L1956.1 353.4 L1956.4 355.9 L1956.6 358.4 L1956.8 360.9 L1957.1 363.4 L1957.3 366.0 L1957.5 368.5 L1957.8 371.0 L1958.0 373.5 L1958.3 376.0 L1958.5 378.5 L1958.8 381.0 L1959.1 383.5 L1959.3 386.0 L1959.6 388.5 L1959.9 390.9 L1960.1 393.4 L1960.4 395.9 L1960.7 398.4 L1961.0 400.9 L1961.2 403.4 L1961.5 405.8 L1961.8 408.3 L1962.1 410.8 L1962.4 413.3 L1962.7 415.8 L1963.0 418.2 L1963.3 420.7 L1963.6 423.2 L1963.9 425.7 L1964.2 428.2 L1964.5 430.6 L1964.8 433.1 L1965.1 435.6 L1965.4 438.1 L1965.8 440.6 L1966.1 443.0 L1966.4 445.5 L1966.7 448.0 L1967.0 450.5 L1967.4 453.0 L1967.7 455.5 L1968.0 458.0"/>
<path stroke="#548235" stroke-width="13.6" d="M1961.0 596.7 L1958.3 596.8 L1955.7 596.9 L1953.0 597.1 L1950.4 597.2 L1947.8 597.3 L1945.2 597.4 L1942.6 597.5 L1940.0 597.6 L1937.5 597.6 L1934.9 597.7 L1932.4 597.8 L1929.9 597.9 L1927.3 597.9 L1924.8 598.0 L1922.3 598.0 L1919.9 598.1 L1917.4 598.1 L1914.9 598.2 L1912.4 598.2 L1910.0 598.2 L1907.5 598.3 L1905.1 598.3 L1902.6 598.3 L1900.2 598.3 L1897.8 598.3 L1895.4 598.4 L1892.9 598.4 L1890.5 598.4 L1888.1 598.4 L1885.7 598.4 L1883.2 598.4 L1880.8 598.4 L1878.4 598.3 L1876.0 598.3 L1873.6 598.3 L1871.2 598.3 L1868.7 598.3 L1866.3 598.3 L1863.9 598.2 L1861.5 598.2 L1859.0 598.2 L1856.6 598.2 L1854.1 598.1 L1851.7 598.1 L1849.2 598.1 L1846.8 598.0 L1844.3 598.0 L1841.8 598.0 L1839.3 597.9 L1836.9 597.9 L1834.4 597.8 L1831.8 597.8 L1829.3 597.7 L1826.8 597.7 L1824.2 597.7 L1821.7 597.6 L1819.1 597.6 L1816.5 597.5 L1813.9 597.5 L1811.3 597.4 L1808.7 597.4 L1806.1 597.4 L1803.4 597.3 L1800.8 597.3 L1798.1 597.2 L1795.4 597.2 L1792.7 597.2 L1790.0 597.2 L1787.3 597.2 L1784.6 597.2 L1781.9 597.3 L1779.3 597.4 L1776.7 597.6 L1774.1 597.8 L1771.6 598.1 L1769.1 598.5 L1766.7 598.9 L1764.3 599.4 L1762.0 600.0 L1759.8 600.7 L1757.7 601.5 L1755.6 602.3 L1753.7 603.3 L1751.8 604.4 L1750.1 605.7 L1748.4 607.0 L1746.9 608.5 L1745.5 610.2 L1744.2 611.9 L1743.1 613.8 L1742.0 615.8 L1741.0 617.9 L1740.1 620.1 L1739.2 622.4 L1738.4 624.8 L1737.7 627.3 L1737.1 629.8 L1736.4 632.4 L1735.8 635.0 L1735.2 637.7 L1734.7 640.4 L1734.1 643.1 L1733.6 645.8 L1733.0 648.6 L1732.4 651.3 L1731.8 654.0 L1731.2 656.8 L1730.5 659.4 L1729.7 662.1 L1728.9 664.7 L1728.0 667.3 L1727.1 669.8 L1726.1 672.2 L1724.9 674.6 L1723.7 676.8 L1722.4 679.0 L1721.0 681.1 L1719.5 683.1 L1717.9 685.0 L1716.3 686.7 L1714.5 688.3 L1712.7 689.8 L1710.9 691.1 L1709.0 692.3 L1707.0 693.3 L1705.0 694.2 L1702.9 694.9 L1700.8 695.4 L1698.6 695.7 L1696.5 695.8 L1694.2 695.7 L1692.0 695.4 L1689.8 694.8 L1687.5 694.1 L1685.2 693.1 L1682.9 691.9 L1680.6 690.6 L1678.3 689.2 L1676.0 687.7 L1673.7 686.1 L1671.4 684.5 L1669.1 682.9 L1666.9 681.4 L1664.6 679.8 L1662.3 678.4 L1660.1 676.9 L1657.8 675.5 L1655.5 674.2 L1653.2 672.9 L1651.0 671.7 L1648.6 670.5 L1646.3 669.5 L1644.0 668.5 L1641.7 667.5 L1639.3 666.7 L1636.9 665.9 L1634.5 665.1 L1632.2 664.4 L1629.7 663.8 L1627.3 663.2 L1624.9 662.6 L1622.5 662.1 L1620.1 661.6 L1617.6 661.2 L1615.2 660.8 L1612.7 660.4 L1610.3 660.0 L1607.8 659.7 L1605.3 659.4 L1602.9 659.0 L1600.4 658.7 L1597.9 658.4 L1595.4 658.2 L1593.0 657.9 L1590.5 657.6 L1588.0 657.3 L1585.5 657.0 L1583.0 656.7 L1580.6 656.4 L1578.1 656.1 L1575.6 655.8 L1573.1 655.6 L1570.6 655.3 L1568.2 655.0 L1565.7 654.7 L1563.2 654.4 L1560.7 654.1 L1558.2 653.9 L1555.7 653.6 L1553.2 653.3 L1550.8 653.0 L1548.3 652.8 L1545.8 652.5 L1543.3 652.2 L1540.8 652.0 L1538.3 651.7 L1535.8 651.4 L1533.3 651.2 L1530.8 650.9 L1528.3 650.6 L1525.8 650.4 L1523.4 650.1 L1520.9 649.9 L1518.4 649.6 L1515.9 649.4 L1513.4 649.1 L1510.9 648.9 L1508.4 648.6 L1505.9 648.4 L1503.4 648.2 L1500.9 647.9 L1498.4 647.7 L1495.9 647.4 L1493.4 647.2 L1490.9 647.0 L1488.4 646.8 L1485.9 646.5 L1483.4 646.3 L1480.9 646.1 L1478.4 645.9 L1475.9 645.7 L1473.4 645.5 L1470.9 645.2 L1468.4 645.0 L1465.9 644.8 L1463.4 644.6 L1460.9 644.4 L1458.4 644.2 L1455.9 644.0 L1453.4 643.9 L1450.9 643.7 L1448.4 643.5 L1445.9 643.3 L1443.4 643.1 L1440.9 643.0 L1438.4 642.8 L1435.9 642.6 L1433.4 642.5 L1430.9 642.3 L1428.4 642.1 L1425.9 642.0 L1423.4 641.8 L1420.8 641.7 L1418.3 641.5 L1415.8 641.4 L1413.3 641.3 L1410.8 641.1 L1408.3 641.0 L1405.8 640.9 L1403.3 640.8 L1400.8 640.6 L1398.3 640.5 L1395.8 640.4 L1393.3 640.3 L1390.8 640.2 L1388.3 640.1 L1385.8 640.0 L1383.3 639.9 L1380.8 639.8 L1378.3 639.8 L1375.8 639.7 L1373.3 639.6 L1370.8 639.5 L1368.3 639.5 L1365.8 639.4 L1363.2 639.3 L1360.7 639.3 L1358.2 639.2 L1355.7 639.2 L1353.2 639.1 L1350.7 639.1 L1348.2 639.1 L1345.7 639.0 L1343.2 639.0 L1340.7 639.0 L1338.2 638.9 L1335.7 638.9 L1333.2 638.9 L1330.7 638.9 L1328.2 638.9 L1325.7 638.9 L1323.2 638.8 L1320.7 638.8 L1318.2 638.8 L1315.7 638.8 L1313.2 638.8 L1310.7 638.9 L1308.2 638.9 L1305.7 638.9 L1303.2 638.9 L1300.7 638.9 L1298.2 638.9 L1295.7 639.0 L1293.2 639.0 L1290.6 639.0 L1288.1 639.1 L1285.6 639.1 L1283.1 639.1 L1280.6 639.2 L1278.1 639.2 L1275.6 639.3 L1273.1 639.3 L1270.6 639.4 L1268.1 639.4 L1265.6 639.5 L1263.1 639.5 L1260.6 639.6 L1258.1 639.6 L1255.6 639.7 L1253.1 639.8 L1250.6 639.8 L1248.1 639.9 L1245.6 640.0 L1243.1 640.1 L1240.6 640.1 L1238.1 640.2 L1235.6 640.3 L1233.1 640.4 L1230.6 640.5 L1228.1 640.6 L1225.6 640.6 L1223.1 640.7 L1220.6 640.8 L1218.1 640.9 L1215.6 641.0 L1213.1 641.1 L1210.6 641.2 L1208.1 641.3 L1205.6 641.4 L1203.1 641.5 L1200.5 641.6 L1198.0 641.7 L1195.5 641.8 L1193.0 641.9 L1190.5 642.0 L1188.0 642.1 L1185.5 642.3 L1183.0 642.4 L1180.5 642.5 L1178.0 642.6 L1175.5 642.7 L1173.0 642.8 L1170.5 643.0 L1168.0 643.1 L1165.5 643.2 L1163.0 643.3 L1160.5 643.4 L1158.0 643.6 L1155.5 643.7 L1153.0 643.8 L1150.5 643.9 L1148.0 644.1 L1145.5 644.2 L1143.0 644.3 L1140.5 644.4 L1138.0 644.6 L1135.5 644.7 L1133.0 644.8 L1130.5 645.0 L1128.0 645.1 L1125.5 645.2 L1123.0 645.4 L1120.5 645.5 L1118.0 645.6 L1115.5 645.8 L1113.0 645.9 L1110.5 646.0 L1108.0 646.1 L1105.5 646.3 L1103.0 646.4 L1100.5 646.5 L1098.0 646.7 L1095.5 646.8 L1093.0 647.0 L1090.5 647.1 L1087.9 647.2 L1085.4 647.4 L1082.9 647.5 L1080.4 647.6 L1077.9 647.8 L1075.4 647.9 L1072.9 648.0 L1070.4 648.1 L1067.9 648.3 L1065.4 648.4 L1062.9 648.5 L1060.4 648.7 L1057.9 648.8 L1055.4 648.9 L1052.9 649.1 L1050.4 649.2 L1047.9 649.3 L1045.4 649.4 L1042.9 649.6 L1040.4 649.7 L1037.9 649.8 L1035.4 649.9 L1032.9 650.1 L1030.4 650.2 L1027.9 650.3 L1025.4 650.4 L1022.9 650.6 L1020.4 650.7 L1017.9 650.8 L1015.4 650.9 L1012.9 651.0 L1010.4 651.1 L1007.9 651.2 L1005.4 651.4 L1002.9 651.5 L1000.4 651.6 L997.9 651.7 L995.4 651.8 L992.9 651.9 L990.4 652.0 L987.9 652.1 L985.4 652.2 L982.9 652.3 L980.3 652.4 L977.8 652.5 L975.3 652.6 L972.8 652.7 L970.3 652.8 L967.8 652.9 L965.3 653.0 L962.8 653.0 L960.3 653.1 L957.8 653.2 L955.3 653.3 L952.8 653.4 L950.3 653.4 L947.8 653.5 L945.3 653.6 L942.8 653.7 L940.3 653.7 L937.8 653.8 L935.3 653.9 L932.8 653.9 L930.3 654.0 L927.8 654.1 L925.3 654.1 L922.8 654.2 L920.3 654.2 L917.8 654.3 L915.3 654.3 L912.8 654.4 L910.3 654.4 L907.8 654.4 L905.3 654.5 L902.8 654.5 L900.3 654.5 L897.8 654.6 L895.3 654.6 L892.7 654.6 L890.2 654.6 L887.7 654.7 L885.2 654.7 L882.7 654.7 L880.2 654.7 L877.7 654.7 L875.2 654.7 L872.7 654.7 L870.2 654.8 L867.7 654.8 L865.2 654.8 L862.7 654.8 L860.2 654.8 L857.7 654.8 L855.2 654.9 L852.7 654.9 L850.2 654.9 L847.7 654.9 L845.2 654.9 L842.7 655.0 L840.2 655.0 L837.7 655.0 L835.2 655.1 L832.7 655.1 L830.2 655.1 L827.7 655.2 L825.2 655.2 L822.7 655.3 L820.2 655.3 L817.7 655.4 L815.2 655.5 L812.7 655.5 L810.2 655.6 L807.7 655.7 L805.2 655.8 L802.7 655.9 L800.2 656.0 L797.7 656.1 L795.2 656.2 L792.7 656.3 L790.2 656.4 L787.7 656.5 L785.2 656.7 L782.7 656.8 L780.2 657.0 L777.7 657.1 L775.2 657.3 L772.7 657.5 L770.3 657.7 L767.8 657.9 L765.3 658.1 L762.8 658.3 L760.3 658.5 L757.8 658.7 L755.3 659.0 L752.8 659.2 L750.3 659.5 L747.8 659.8 L745.3 660.0 L742.9 660.3 L740.4 660.7 L737.9 661.0 L735.4 661.3 L732.9 661.6 L730.4 662.0 L727.9 662.4 L725.5 662.7 L723.0 663.1 L720.5 663.5 L718.0 664.0 L715.5 664.4 L713.0 664.8 L710.6 665.3 L708.1 665.8 L705.6 666.3 L703.1 666.8 L700.6 667.3 L698.2 667.8 L695.7 668.4 L693.2 668.9 L690.8 669.5 L688.3 670.1 L685.8 670.7 L683.4 671.4 L680.9 672.0 L678.5 672.7 L676.1 673.4 L673.6 674.1 L671.2 674.9 L668.8 675.6 L666.4 676.4 L664.1 677.3 L661.7 678.1 L659.4 679.0 L657.1 679.9 L654.8 680.8 L652.5 681.8 L650.2 682.8 L648.0 683.8 L645.7 684.8 L643.5 685.9 L641.4 687.0 L639.2 688.2 L637.1 689.4 L635.0 690.6 L632.9 691.9 L630.9 693.2 L628.8 694.5 L626.9 695.9 L624.9 697.3 L623.0 698.7 L621.1 700.2 L619.2 701.7 L617.4 703.3 L615.6 704.9 L613.9 706.5 L612.1 708.2 L610.5 709.9 L608.8 711.7 L607.1 713.5 L605.5 715.3 L604.0 717.2 L602.4 719.0 L600.9 721.0 L599.4 722.9 L597.9 724.9 L596.4 726.9 L595.0 728.9 L593.6 731.0 L592.2 733.0 L590.8 735.1 L589.5 737.3 L588.1 739.4 L586.8 741.6 L585.5 743.8 L584.3 746.0 L583.0 748.2 L581.8 750.4 L580.5 752.7 L579.3 754.9 L578.1 757.2 L576.9 759.5 L575.7 761.8 L574.6 764.2 L573.4 766.5 L572.3 768.8 L571.1 771.2 L570.0 773.5 L568.9 775.9 L567.8 778.3 L566.7 780.6 L565.6 783.0 L564.5 785.4 L563.4 787.8 L562.3 790.1 L561.2 792.5 L560.1 794.9 L559.1 797.3 L558.0 799.6 L556.9 802.0 L555.8 804.4 L554.7 806.7 L553.6 809.1 L552.5 811.4 L551.5 813.8 L550.4 816.1 L549.2 818.4 L548.1 820.7 L547.0 823.0 L545.9 825.3 L544.8 827.5 L543.6 829.8 L542.5 832.0 L541.4 834.3 L540.2 836.5 L539.0 838.7 L537.9 840.9 L536.7 843.1 L535.5 845.3 L534.4 847.4 L533.2 849.6 L532.0 851.8 L530.8 853.9 L529.6 856.1 L528.5 858.2 L527.3 860.3 L526.1 862.5 L524.9 864.6 L523.7 866.7 L522.5 868.9 L521.3 871.0 L520.1 873.1 L518.9 875.2 L517.7 877.3 L516.5 879.4 L515.3 881.5 L514.1 883.7 L512.9 885.8 L511.7 887.9 L510.5 890.0 L509.3 892.1 L508.1 894.2 L506.9 896.4 L505.7 898.5 L504.5 900.6 L503.3 902.8 L502.1 904.9 L501.0 907.0 L499.8 909.2 L498.6 911.3 L497.4 913.5 L496.3 915.7 L495.1 917.8 L494.0 920.0 L492.8 922.2 L491.7 924.4 L490.6 926.6 L489.4 928.9 L488.3 931.1 L487.2 933.3 L486.1 935.6 L485.0 937.8 L483.9 940.1 L482.8 942.4 L481.7 944.7 L480.7 947.0 L479.6 949.4 L478.5 951.7 L477.5 954.1 L476.4 956.4 L475.4 958.8 L474.3 961.2 L473.3 963.5 L472.2 965.9 L471.1 968.3 L470.0 970.6 L468.9 973.0 L467.8 975.3 L466.6 977.6 L465.4 979.9 L464.2 982.1 L462.9 984.4 L461.7 986.6 L460.3 988.8 L458.9 990.9 L457.5 993.0 L456.0 995.1 L454.5 997.1 L452.9 999.1 L451.3 1001.0 L449.6 1002.9 L447.8 1004.7 L446.0 1006.4 L444.1 1008.0 L442.2 1009.5 L440.2 1010.9 L438.1 1012.1 L436.1 1013.2 L434.0 1014.1 L431.8 1014.8 L429.6 1015.3 L427.4 1015.7 L425.1 1015.8 L422.8 1015.7 L420.5 1015.4 L418.1 1015.0 L415.8 1014.4 L413.3 1013.8 L410.9 1013.0 L408.5 1012.3 L406.0 1011.4 L403.5 1010.6 L401.0 1009.7 L398.4 1008.9 L395.9 1008.1 L393.3 1007.4 L390.8 1006.8 L388.2 1006.3 L385.6 1005.9 L383.0 1005.6 L380.4 1005.3 L377.9 1005.2 L375.3 1005.2 L372.7 1005.2 L370.2 1005.3 L367.7 1005.6 L365.2 1005.9 L362.7 1006.3 L360.3 1006.7 L357.9 1007.3 L355.5 1007.9 L353.2 1008.6 L351.0 1009.3 L348.7 1010.2 L346.5 1011.1 L344.4 1012.0 L342.3 1013.1 L340.2 1014.2 L338.1 1015.3 L336.1 1016.5 L334.2 1017.8 L332.2 1019.1 L330.3 1020.5 L328.5 1022.0 L326.7 1023.5 L324.9 1025.0 L323.1 1026.6 L321.4 1028.3 L319.7 1030.0 L318.0 1031.7 L316.3 1033.5 L314.7 1035.3 L313.1 1037.2 L311.6 1039.1 L310.1 1041.0 L308.5 1043.0 L307.1 1045.0 L305.6 1047.0 L304.2 1049.1 L302.8 1051.2 L301.4 1053.3 L300.0 1055.5 L298.6 1057.7 L297.3 1059.9 L296.0 1062.1 L294.7 1064.4 L293.4 1066.6 L292.2 1068.9 L291.0 1071.2 L289.7 1073.5 L288.5 1075.8 L287.3 1078.2 L286.2 1080.5 L285.0 1082.9 L283.8 1085.2 L282.7 1087.6 L281.6 1089.9 L280.4 1092.3 L279.3 1094.7 L278.2 1097.0 L277.1 1099.4 L276.0 1101.7 L275.0 1104.1 L273.9 1106.4 L272.8 1108.8 L271.8 1111.1 L270.7 1113.4 L269.7 1115.7 L268.6 1118.1 L267.6 1120.4 L266.6 1122.7 L265.5 1125.0 L264.5 1127.3 L263.5 1129.6 L262.5 1131.9 L261.5 1134.2 L260.6 1136.5 L259.6 1138.8 L258.6 1141.1 L257.6 1143.4 L256.7 1145.6 L255.7 1147.9 L254.8 1150.2 L253.8 1152.5 L252.9 1154.8 L252.0 1157.1 L251.0 1159.3 L250.1 1161.6 L249.2 1163.9 L248.3 1166.2 L247.4 1168.5 L246.5 1170.7 L245.6 1173.0 L244.7 1175.3 L243.9 1177.6 L243.0 1179.9 L242.1 1182.2 L241.3 1184.5 L240.4 1186.8 L239.6 1189.1 L238.7 1191.4 L237.9 1193.7 L237.1 1196.0 L236.2 1198.3 L235.4 1200.6 L234.6 1202.9 L233.8 1205.3 L233.0 1207.6 L232.2 1209.9 L231.4 1212.3 L230.6 1214.6 L229.8 1217.0 L229.0 1219.3 L228.3 1221.7 L227.5 1224.1 L226.7 1226.4 L226.0 1228.8 L225.2 1231.2 L224.5 1233.6 L223.7 1236.0 L223.0 1238.4 L222.3 1240.8 L221.5 1243.2 L220.8 1245.7 L220.1 1248.1 L219.4 1250.6 L218.7 1253.0 L218.0 1255.5 L217.3 1258.0 L216.6 1260.5 L215.9 1263.0 L215.2 1265.5 L214.5 1268.0 L214.9 1265.5 L215.2 1263.0 L215.6 1260.5 L215.9 1258.1 L216.3 1255.6 L216.7 1253.1 L217.0 1250.6 L217.4 1248.1 L217.8 1245.7 L218.2 1243.2 L218.5 1240.7 L218.9 1238.2 L219.3 1235.7 L219.7 1233.3 L220.1 1230.8 L220.5 1228.3 L220.9 1225.8 L221.3 1223.4 L221.7 1220.9 L222.1 1218.4 L222.5 1215.9 L222.9 1213.5 L223.3 1211.0 L223.7 1208.5 L224.1 1206.1 L224.5 1203.6 L224.9 1201.1 L225.3 1198.7 L225.8 1196.2 L226.2 1193.7 L226.6 1191.3 L227.1 1188.8 L227.5 1186.3 L227.9 1183.9 L228.4 1181.4 L228.8 1178.9 L229.3 1176.5 L229.7 1174.0 L230.2 1171.6 L230.6 1169.1 L231.1 1166.6 L231.6 1164.2 L232.0 1161.7 L232.5 1159.3 L233.0 1156.8 L233.5 1154.4 L233.9 1151.9 L234.4 1149.5 L234.9 1147.0 L235.4 1144.6 L235.9 1142.1 L236.4 1139.7 L236.9 1137.2 L237.4 1134.8 L237.9 1132.3 L238.4 1129.9 L239.0 1127.4 L239.5 1125.0 L240.0 1122.6 L240.5 1120.1 L241.1 1117.7 L241.6 1115.2 L242.1 1112.8 L242.7 1110.4 L243.2 1107.9 L243.8 1105.5 L244.3 1103.0 L244.9 1100.6 L245.5 1098.2 L246.0 1095.7 L246.6 1093.3 L247.2 1090.9 L247.8 1088.5 L248.4 1086.0 L248.9 1083.6 L249.5 1081.2 L250.1 1078.8 L250.7 1076.3 L251.4 1073.9 L252.0 1071.5 L252.6 1069.1 L253.2 1066.6 L253.8 1064.2 L254.5 1061.8 L255.1 1059.4 L255.7 1057.0 L256.4 1054.6 L257.0 1052.2 L257.7 1049.7 L258.4 1047.3 L259.0 1044.9 L259.7 1042.5 L260.4 1040.1 L261.0 1037.7 L261.7 1035.3 L262.4 1032.9 L263.1 1030.5 L263.8 1028.1 L264.5 1025.7 L265.2 1023.3 L265.9 1020.9 L266.7 1018.5 L267.4 1016.1 L268.1 1013.7 L268.9 1011.3 L269.6 1008.9 L270.3 1006.5 L271.1 1004.1 L271.9 1001.8 L272.6 999.4 L273.4 997.0 L274.2 994.6 L274.9 992.2 L275.7 989.8 L276.5 987.5 L277.3 985.1 L278.1 982.7 L278.9 980.3 L279.7 977.9 L280.6 975.6 L281.4 973.2 L282.2 970.8 L283.1 968.5 L283.9 966.1 L284.7 963.7 L285.6 961.4 L286.5 959.0 L287.3 956.6 L288.2 954.3 L289.1 951.9 L290.0 949.6 L290.9 947.2 L291.8 944.8 L292.7 942.5 L293.6 940.1 L294.5 937.8 L295.4 935.4 L296.3 933.1 L297.3 930.7 L298.2 928.4 L299.2 926.1 L300.1 923.7 L301.1 921.4 L302.1 919.1 L303.1 916.8 L304.1 914.4 L305.1 912.1 L306.1 909.8 L307.1 907.5 L308.1 905.2 L309.1 902.9 L310.2 900.6 L311.2 898.3 L312.3 896.0 L313.3 893.7 L314.4 891.5 L315.5 889.2 L316.6 886.9 L317.7 884.7 L318.8 882.4 L319.9 880.1 L321.1 877.9 L322.2 875.7 L323.3 873.4 L324.5 871.2 L325.7 869.0 L326.8 866.8 L328.0 864.6 L329.2 862.4 L330.4 860.2 L331.7 858.0 L332.9 855.8 L334.1 853.7 L335.4 851.5 L336.6 849.4 L337.9 847.2 L339.2 845.1 L340.5 842.9 L341.8 840.8 L343.1 838.7 L344.5 836.6 L345.8 834.5 L347.2 832.4 L348.5 830.4 L349.9 828.3 L351.3 826.3 L352.7 824.2 L354.1 822.2 L355.5 820.1 L357.0 818.1 L358.4 816.1 L359.9 814.1 L361.4 812.2 L362.9 810.2 L364.4 808.2 L365.9 806.3 L367.4 804.3 L369.0 802.4 L370.5 800.5 L372.1 798.6 L373.7 796.7 L375.3 794.8 L376.9 793.0 L378.5 791.1 L380.1 789.3 L381.8 787.4 L383.5 785.6 L385.2 783.8 L386.9 782.0 L388.6 780.2 L390.3 778.5 L392.0 776.7 L393.8 775.0 L395.6 773.3 L397.4 771.6 L399.2 769.9 L401.0 768.2 L402.8 766.5 L404.7 764.9 L406.5 763.2 L408.4 761.6 L410.3 760.0 L412.2 758.4 L414.2 756.8 L416.1 755.3 L418.1 753.7 L420.1 752.2 L422.1 750.7 L424.1 749.2 L426.1 747.7 L428.2 746.2 L430.2 744.8 L432.3 743.3 L434.4 741.9 L436.5 740.5 L438.6 739.1 L440.7 737.7 L442.9 736.3 L445.0 734.9 L447.1 733.6 L449.3 732.2 L451.5 730.9 L453.6 729.5 L455.8 728.2 L458.0 726.8 L460.2 725.5 L462.3 724.1 L464.5 722.8 L466.7 721.5 L468.9 720.1 L471.1 718.8 L473.3 717.5 L475.4 716.1 L477.6 714.8 L479.8 713.4 L482.0 712.1 L484.1 710.7 L486.3 709.4 L488.4 708.0 L490.6 706.6 L492.7 705.2 L494.8 703.8 L496.9 702.4 L499.0 701.0 L501.1 699.6 L503.2 698.1 L505.2 696.7 L507.3 695.2 L509.3 693.7 L511.3 692.2 L513.3 690.7 L515.3 689.2 L517.2 687.6 L519.2 686.1 L521.1 684.5 L523.0 682.9 L524.9 681.2 L526.7 679.6 L528.5 677.9 L530.3 676.2 L532.1 674.5 L533.9 672.7 L535.6 671.0 L537.3 669.2 L539.0 667.3 L540.6 665.5 L542.3 663.6 L543.9 661.8 L545.5 659.9 L547.0 658.0 L548.6 656.0 L550.1 654.1 L551.6 652.1 L553.1 650.2 L554.6 648.2 L556.1 646.2 L557.6 644.2 L559.0 642.2 L560.5 640.2 L561.9 638.2 L563.3 636.1 L564.7 634.1 L566.1 632.1 L567.5 630.0 L568.9 628.0 L570.3 625.9 L571.6 623.9 L573.0 621.9 L574.4 619.8 L575.8 617.8 L577.1 615.8 L578.5 613.8 L579.8 611.7 L581.2 609.7 L582.6 607.7 L583.9 605.7 L585.3 603.7 L586.7 601.7 L588.0 599.6 L589.4 597.6 L590.8 595.6 L592.2 593.5 L593.6 591.4 L595.0 589.3 L596.4 587.2 L597.8 585.0 L599.2 582.8 L600.6 580.6 L602.0 578.3 L603.4 576.1 L604.9 573.8 L606.3 571.5 L607.8 569.2 L609.3 566.9 L610.8 564.6 L612.3 562.4 L613.9 560.2 L615.5 558.1 L617.1 556.0 L618.8 554.0 L620.5 552.1 L622.3 550.3 L624.1 548.5 L626.0 546.9 L627.9 545.3 L629.8 543.8 L631.8 542.5 L633.8 541.2 L635.8 539.9 L637.9 538.8 L640.0 537.7 L642.2 536.8 L644.4 535.8 L646.6 535.0 L648.8 534.2 L651.1 533.5 L653.4 532.8 L655.7 532.2 L658.0 531.7 L660.4 531.2 L662.8 530.8 L665.2 530.4 L667.6 530.0 L670.0 529.7 L672.5 529.5 L675.0 529.2 L677.4 529.1 L679.9 528.9 L682.4 528.8 L684.9 528.7 L687.4 528.6 L690.0 528.6 L692.5 528.6 L695.0 528.6 L697.5 528.6 L700.1 528.6 L702.6 528.7 L705.1 528.7 L707.6 528.8 L710.1 528.9 L712.7 529.0 L715.2 529.1 L717.7 529.2 L720.2 529.3 L722.7 529.4 L725.2 529.6 L727.7 529.7 L730.2 529.9 L732.8 530.1 L735.3 530.2 L737.8 530.4 L740.3 530.6 L742.8 530.8 L745.3 531.0 L747.8 531.3 L750.3 531.5 L752.8 531.7 L755.3 532.0 L757.8 532.2 L760.3 532.4 L762.8 532.7 L765.3 533.0 L767.8 533.2 L770.3 533.5 L772.7 533.8 L775.2 534.1 L777.7 534.3 L780.2 534.6 L782.7 534.9 L785.2 535.2 L787.7 535.5 L790.2 535.8 L792.7 536.1 L795.2 536.4 L797.6 536.7 L800.1 537.0 L802.6 537.4 L805.1 537.7 L807.6 538.0 L810.1 538.3 L812.6 538.6 L815.0 538.9 L817.5 539.2 L820.0 539.6 L822.5 539.9 L825.0 540.2 L827.5 540.5 L830.0 540.8 L832.4 541.1 L834.9 541.4 L837.4 541.7 L839.9 542.0 L842.4 542.3 L844.9 542.6 L847.3 542.9 L849.8 543.2 L852.3 543.5 L854.8 543.7 L857.3 544.0 L859.8 544.3 L862.2 544.6 L864.7 544.8 L867.2 545.1 L869.7 545.3 L872.2 545.6 L874.7 545.8 L877.2 546.0 L879.6 546.3 L882.1 546.5 L884.6 546.7 L887.1 547.0 L889.6 547.2 L892.1 547.4 L894.6 547.6 L897.1 547.8 L899.5 548.0 L902.0 548.2 L904.5 548.4 L907.0 548.6 L909.5 548.8 L912.0 549.0 L914.5 549.1 L917.0 549.3 L919.5 549.5 L921.9 549.7 L924.4 549.8 L926.9 550.0 L929.4 550.2 L931.9 550.3 L934.4 550.5 L936.9 550.7 L939.4 550.8 L941.9 551.0 L944.4 551.1 L946.9 551.3 L949.4 551.5 L951.8 551.6 L954.3 551.8 L956.8 551.9 L959.3 552.1 L961.8 552.2 L964.3 552.4 L966.8 552.5 L969.3 552.6 L971.8 552.8 L974.3 552.9 L976.8 553.1 L979.3 553.2 L981.8 553.4 L984.3 553.5 L986.8 553.6 L989.3 553.8 L991.8 553.9 L994.3 554.1 L996.8 554.2 L999.3 554.4 L1001.8 554.5 L1004.3 554.7 L1006.8 554.8 L1009.3 555.0 L1011.8 555.1 L1014.3 555.3 L1016.8 555.4 L1019.3 555.6 L1021.8 555.7 L1024.3 555.9 L1026.8 556.0 L1029.3 556.2 L1031.8 556.4 L1034.3 556.5 L1036.8 556.7 L1039.3 556.9 L1041.8 557.0 L1044.3 557.2 L1046.8 557.4 L1049.3 557.5 L1051.8 557.7 L1054.3 557.9 L1056.8 558.1 L1059.3 558.2 L1061.8 558.4 L1064.3 558.6 L1066.8 558.8 L1069.3 559.0 L1071.8 559.1 L1074.3 559.3 L1076.8 559.5 L1079.3 559.7 L1081.8 559.9 L1084.4 560.1 L1086.9 560.2 L1089.4 560.4 L1091.9 560.6 L1094.4 560.8 L1096.9 561.0 L1099.4 561.2 L1101.9 561.4 L1104.4 561.6 L1106.9 561.7 L1109.4 561.9 L1111.9 562.1 L1114.4 562.3 L1116.9 562.5 L1119.5 562.7 L1122.0 562.9 L1124.5 563.1 L1127.0 563.2 L1129.5 563.4 L1132.0 563.6 L1134.5 563.8 L1137.0 564.0 L1139.5 564.2 L1142.0 564.4 L1144.5 564.5 L1147.1 564.7 L1149.6 564.9 L1152.1 565.1 L1154.6 565.3 L1157.1 565.4 L1159.6 565.6 L1162.1 565.8 L1164.6 566.0 L1167.1 566.2 L1169.6 566.3 L1172.1 566.5 L1174.6 566.7 L1177.2 566.8 L1179.7 567.0 L1182.2 567.2 L1184.7 567.4 L1187.2 567.5 L1189.7 567.7 L1192.2 567.8 L1194.7 568.0 L1197.2 568.2 L1199.7 568.3 L1202.2 568.5 L1204.8 568.6 L1207.3 568.8 L1209.8 568.9 L1212.3 569.1 L1214.8 569.2 L1217.3 569.4 L1219.8 569.5 L1222.3 569.6 L1224.8 569.8 L1227.3 569.9 L1229.8 570.0 L1232.3 570.2 L1234.8 570.3 L1237.4 570.4 L1239.9 570.5 L1242.4 570.7 L1244.9 570.8 L1247.4 570.9 L1249.9 571.0 L1252.4 571.1 L1254.9 571.2 L1257.4 571.3 L1259.9 571.4 L1262.4 571.5 L1264.9 571.6 L1267.4 571.7 L1269.9 571.8 L1272.4 571.9 L1274.9 572.0 L1277.4 572.0 L1280.0 572.1 L1282.5 572.2 L1285.0 572.2 L1287.5 572.3 L1290.0 572.4 L1292.5 572.4 L1295.0 572.5 L1297.5 572.5 L1300.0 572.6 L1302.5 572.6 L1305.0 572.6 L1307.5 572.7 L1310.0 572.7 L1312.5 572.7 L1315.0 572.8 L1317.5 572.8 L1320.0 572.8 L1322.5 572.8 L1325.0 572.8 L1327.5 572.8 L1330.0 572.8 L1332.5 572.8 L1335.0 572.8 L1337.5 572.8 L1340.0 572.7 L1342.5 572.7 L1345.0 572.7 L1347.5 572.6 L1350.0 572.6 L1352.5 572.5 L1354.9 572.5 L1357.4 572.4 L1359.9 572.4 L1362.4 572.3 L1364.9 572.2 L1367.4 572.2 L1369.9 572.1 L1372.4 572.0 L1374.9 571.9 L1377.4 571.8 L1379.9 571.7 L1382.4 571.6 L1384.9 571.5 L1387.4 571.4 L1389.8 571.2 L1392.3 571.1 L1394.8 571.0 L1397.3 570.8 L1399.8 570.7 L1402.3 570.5 L1404.8 570.4 L1407.3 570.2 L1409.7 570.0 L1412.2 569.9 L1414.7 569.7 L1417.2 569.5 L1419.7 569.3 L1422.2 569.1 L1424.7 568.9 L1427.1 568.7 L1429.6 568.4 L1432.1 568.2 L1434.6 568.0 L1437.1 567.7 L1439.5 567.5 L1442.0 567.2 L1444.5 567.0 L1447.0 566.7 L1449.5 566.4 L1451.9 566.1 L1454.4 565.9 L1456.9 565.6 L1459.4 565.3 L1461.8 564.9 L1464.3 564.6 L1466.8 564.3 L1469.3 564.0 L1471.7 563.6 L1474.2 563.3 L1476.7 562.9 L1479.1 562.6 L1481.6 562.2 L1484.1 561.8 L1486.6 561.5 L1489.0 561.1 L1491.5 560.7 L1494.0 560.3 L1496.4 559.8 L1498.9 559.4 L1501.4 559.0 L1503.8 558.6 L1506.3 558.1 L1508.8 557.7 L1511.2 557.2 L1513.7 556.7 L1516.1 556.3 L1518.6 555.8 L1521.1 555.3 L1523.5 554.8 L1526.0 554.3 L1528.4 553.8 L1530.9 553.4 L1533.4 552.9 L1535.8 552.4 L1538.3 551.9 L1540.8 551.3 L1543.2 550.8 L1545.7 550.3 L1548.1 549.8 L1550.6 549.3 L1553.1 548.8 L1555.5 548.3 L1558.0 547.8 L1560.4 547.3 L1562.9 546.8 L1565.4 546.3 L1567.8 545.8 L1570.3 545.3 L1572.8 544.8 L1575.2 544.4 L1577.7 543.9 L1580.2 543.4 L1582.6 542.9 L1585.1 542.5 L1587.6 542.0 L1590.0 541.6 L1592.5 541.1 L1595.0 540.7 L1597.5 540.2 L1599.9 539.8 L1602.4 539.4 L1604.9 539.0 L1607.4 538.6 L1609.8 538.2 L1612.3 537.8 L1614.8 537.5 L1617.3 537.1 L1619.8 536.8 L1622.3 536.4 L1624.7 536.1 L1627.2 535.8 L1629.7 535.5 L1632.2 535.2 L1634.7 535.0 L1637.2 534.7 L1639.7 534.5 L1642.2 534.3 L1644.7 534.0 L1647.2 533.8 L1649.7 533.7 L1652.2 533.5 L1654.7 533.4 L1657.3 533.2 L1659.8 533.1 L1662.3 533.0 L1664.8 532.9 L1667.3 532.9 L1669.8 532.8 L1672.4 532.8 L1674.9 532.7 L1677.4 532.7 L1679.9 532.7 L1682.4 532.7 L1685.0 532.7 L1687.5 532.7 L1690.0 532.7 L1692.5 532.7 L1695.1 532.7 L1697.6 532.7 L1700.1 532.7 L1702.6 532.7 L1705.2 532.8 L1707.7 532.8 L1710.2 532.8 L1712.7 532.8 L1715.2 532.8 L1717.7 532.8 L1720.3 532.8 L1722.8 532.8 L1725.3 532.8 L1727.8 532.8 L1730.3 532.8 L1732.8 532.8 L1735.3 532.7 L1737.8 532.7 L1740.3 532.6 L1742.8 532.5 L1745.3 532.4 L1747.8 532.3 L1750.2 532.2 L1752.7 532.1 L1755.2 531.9 L1757.7 531.8 L1760.1 531.6 L1762.6 531.4 L1765.1 531.1 L1767.5 530.9 L1770.0 530.6 L1772.4 530.3 L1774.9 530.0 L1777.3 529.7 L1779.7 529.3 L1782.1 528.9 L1784.6 528.5 L1787.0 528.1 L1789.4 527.6 L1791.8 527.1 L1794.2 526.5 L1796.6 526.0 L1799.0 525.4 L1801.3 524.7 L1803.7 524.1 L1806.1 523.4 L1808.4 522.6 L1810.8 521.9 L1813.1 521.0 L1815.4 520.2 L1817.6 519.2 L1819.8 518.2 L1822.0 517.2 L1824.1 516.1 L1826.2 514.9 L1828.3 513.6 L1830.3 512.3 L1832.3 510.9 L1834.3 509.5 L1836.3 507.9 L1838.3 506.4 L1840.3 504.7 L1842.3 503.0 L1844.4 501.2 L1846.4 499.4 L1848.5 497.5 L1850.6 495.5 L1852.8 493.5 L1855.0 491.5 L1857.1 489.6 L1859.3 487.6 L1861.5 485.8 L1863.7 484.0 L1865.9 482.4 L1868.1 480.8 L1870.3 479.4 L1872.5 478.2 L1874.6 477.2 L1876.7 476.4 L1878.8 475.9 L1880.8 475.6 L1882.9 475.6 L1884.8 476.0 L1886.7 476.6 L1888.6 477.6 L1890.4 478.8 L1892.2 480.3 L1893.9 481.9 L1895.6 483.7 L1897.3 485.7 L1898.9 487.6 L1900.6 489.6 L1902.2 491.6 L1903.9 493.5 L1905.5 495.5 L1907.3 497.4 L1909.0 499.2 L1910.8 501.0 L1912.6 502.6 L1914.5 504.1 L1916.5 505.5 L1918.5 506.8 L1920.6 507.9 L1922.8 509.0 L1925.0 509.9 L1927.2 510.9 L1929.4 511.8 L1931.7 512.7 L1933.9 513.7 L1936.1 514.7 L1938.3 515.9 L1940.5 517.1 L1942.6 518.5 L1944.7 519.9 L1946.7 521.3 L1948.8 522.8 L1950.9 524.4 L1952.9 525.9 L1955.0 527.5 L1957.0 529.0 L1959.1 530.5 L1961.2 531.9 L1963.3 533.3 L1965.4 534.6 L1967.6 535.9 L1969.8 537.0 L1972.0 538.0"/>
<path stroke="#000000" d="M1959.0 560.5 L1957.6 562.9 L1956.2 565.2 L1954.6 567.4 L1953.1 569.5 L1951.5 571.5 L1949.8 573.4 L1948.1 575.2 L1946.3 576.9 L1944.5 578.5 L1942.6 580.1 L1940.7 581.5 L1938.8 582.9 L1936.8 584.2 L1934.8 585.4 L1932.7 586.5 L1930.6 587.6 L1928.4 588.6 L1926.2 589.5 L1924.0 590.4 L1921.8 591.2 L1919.5 591.9 L1917.2 592.6 L1914.9 593.3 L1912.5 593.8 L1910.1 594.4 L1907.7 594.9 L1905.3 595.3 L1902.8 595.7 L1900.3 596.1 L1897.8 596.4 L1895.3 596.7 L1892.8 596.9 L1890.3 597.2 L1887.7 597.4 L1885.2 597.5 L1882.6 597.7 L1880.0 597.8 L1877.4 598.0 L1874.8 598.1 L1872.3 598.2 L1869.7 598.2 L1867.1 598.3 L1864.5 598.4 L1861.9 598.5 L1859.3 598.5 L1856.7 598.6 L1854.1 598.7 L1851.5 598.8 L1849.0 598.9 L1846.4 599.0 L1843.9 599.1 L1841.3 599.3 L1838.8 599.4 L1836.3 599.6 L1833.7 599.7 L1831.2 599.9 L1828.7 600.1 L1826.2 600.3 L1823.7 600.6 L1821.2 600.8 L1818.7 601.1 L1816.3 601.4 L1813.8 601.7 L1811.4 602.0 L1808.9 602.4 L1806.5 602.8 L1804.0 603.2 L1801.6 603.6 L1799.2 604.1 L1796.8 604.6 L1794.4 605.1 L1792.0 605.7 L1789.6 606.3 L1787.2 606.9 L1784.9 607.5 L1782.5 608.2 L1780.2 608.9 L1777.8 609.7 L1775.6 610.5 L1773.3 611.5 L1771.2 612.5 L1769.1 613.6 L1767.2 614.9 L1765.4 616.3 L1763.7 617.8 L1762.1 619.6 L1760.8 621.5 L1759.6 623.6 L1758.5 625.8 L1757.5 628.2 L1756.6 630.7 L1755.8 633.3 L1755.1 636.1 L1754.4 638.9 L1753.7 641.7 L1753.0 644.6 L1752.3 647.6 L1751.5 650.5 L1750.7 653.4 L1749.8 656.2 L1748.9 658.8 L1747.9 661.3 L1746.8 663.6 L1745.6 665.6 L1744.2 667.4 L1742.8 668.8 L1741.2 669.8 L1739.5 670.5 L1737.6 670.9 L1735.7 671.0 L1733.7 670.8 L1731.5 670.4 L1729.4 669.8 L1727.1 669.0 L1724.8 668.1 L1722.5 667.1 L1720.2 666.0 L1717.8 664.9 L1715.5 663.8 L1713.1 662.6 L1710.8 661.5 L1708.5 660.3 L1706.1 659.2 L1703.8 658.1 L1701.5 657.0 L1699.1 655.9 L1696.8 654.8 L1694.5 653.8 L1692.1 652.7 L1689.8 651.8 L1687.4 650.8 L1685.1 649.9 L1682.7 649.0 L1680.3 648.1 L1677.9 647.3 L1675.5 646.4 L1673.2 645.7 L1670.8 644.9 L1668.4 644.2 L1666.0 643.5 L1663.5 642.8 L1661.1 642.2 L1658.7 641.6 L1656.3 641.0 L1653.8 640.4 L1651.4 639.9 L1649.0 639.4 L1646.5 638.9 L1644.1 638.4 L1641.6 637.9 L1639.2 637.5 L1636.7 637.1 L1634.2 636.7 L1631.8 636.3 L1629.3 636.0 L1626.8 635.6 L1624.4 635.3 L1621.9 635.0 L1619.4 634.7 L1616.9 634.4 L1614.4 634.2 L1611.9 633.9 L1609.4 633.7 L1606.9 633.5 L1604.4 633.3 L1601.9 633.1 L1599.4 632.9 L1596.9 632.7 L1594.4 632.5 L1591.9 632.4 L1589.4 632.2 L1586.9 632.1 L1584.4 632.0 L1581.9 631.8 L1579.4 631.7 L1576.9 631.6 L1574.4 631.5 L1571.9 631.3 L1569.3 631.2 L1566.8 631.1 L1564.3 631.0 L1561.8 630.9 L1559.3 630.8 L1556.8 630.7 L1554.3 630.6 L1551.8 630.5 L1549.2 630.4 L1546.7 630.3 L1544.2 630.2 L1541.7 630.1 L1539.2 630.0 L1536.7 629.9 L1534.2 629.8 L1531.7 629.8 L1529.2 629.7 L1526.6 629.6 L1524.1 629.5 L1521.6 629.4 L1519.1 629.3 L1516.6 629.2 L1514.1 629.1 L1511.6 629.1 L1509.1 629.0 L1506.6 628.9 L1504.1 628.8 L1501.5 628.7 L1499.0 628.7 L1496.5 628.6 L1494.0 628.5 L1491.5 628.4 L1489.0 628.4 L1486.5 628.3 L1484.0 628.2 L1481.5 628.1 L1479.0 628.1 L1476.5 628.0 L1474.0 627.9 L1471.4 627.9 L1468.9 627.8 L1466.4 627.7 L1463.9 627.7 L1461.4 627.6 L1458.9 627.5 L1456.4 627.5 L1453.9 627.4 L1451.4 627.3 L1448.9 627.3 L1446.4 627.2 L1443.9 627.2 L1441.4 627.1 L1438.9 627.0 L1436.3 627.0 L1433.8 626.9 L1431.3 626.9 L1428.8 626.8 L1426.3 626.8 L1423.8 626.7 L1421.3 626.7 L1418.8 626.6 L1416.3 626.6 L1413.8 626.5 L1411.3 626.5 L1408.8 626.4 L1406.3 626.4 L1403.8 626.3 L1401.3 626.3 L1398.8 626.3 L1396.3 626.2 L1393.8 626.2 L1391.3 626.1 L1388.8 626.1 L1386.2 626.0 L1383.7 626.0 L1381.2 626.0 L1378.7 625.9 L1376.2 625.9 L1373.7 625.9 L1371.2 625.8 L1368.7 625.8 L1366.2 625.8 L1363.7 625.7 L1361.2 625.7 L1358.7 625.7 L1356.2 625.6 L1353.7 625.6 L1351.2 625.6 L1348.7 625.5 L1346.2 625.5 L1343.7 625.5 L1341.2 625.5 L1338.7 625.4 L1336.2 625.4 L1333.7 625.4 L1331.2 625.3 L1328.7 625.3 L1326.2 625.3 L1323.7 625.3 L1321.2 625.3 L1318.7 625.2 L1316.2 625.2 L1313.7 625.2 L1311.2 625.2 L1308.7 625.2 L1306.1 625.1 L1303.6 625.1 L1301.1 625.1 L1298.6 625.1 L1296.1 625.1 L1293.6 625.1 L1291.1 625.0 L1288.6 625.0 L1286.1 625.0 L1283.6 625.0 L1281.1 625.0 L1278.6 625.0 L1276.1 625.0 L1273.6 625.0 L1271.1 624.9 L1268.6 624.9 L1266.1 624.9 L1263.6 624.9 L1261.1 624.9 L1258.6 624.9 L1256.1 624.9 L1253.6 624.9 L1251.1 624.9 L1248.6 624.9 L1246.1 624.9 L1243.6 624.9 L1241.1 624.9 L1238.6 624.9 L1236.1 624.8 L1233.6 624.8 L1231.1 624.8 L1228.6 624.8 L1226.1 624.8 L1223.6 624.8 L1221.1 624.8 L1218.6 624.8 L1216.1 624.8 L1213.6 624.8 L1211.1 624.8 L1208.6 624.8 L1206.1 624.8 L1203.6 624.8 L1201.1 624.8 L1198.6 624.8 L1196.1 624.9 L1193.6 624.9 L1191.1 624.9 L1188.6 624.9 L1186.1 624.9 L1183.6 624.9 L1181.1 624.9 L1178.6 624.9 L1176.1 624.9 L1173.6 624.9 L1171.1 624.9 L1168.6 624.9 L1166.1 624.9 L1163.6 624.9 L1161.1 624.9 L1158.6 624.9 L1156.1 625.0 L1153.6 625.0 L1151.1 625.0 L1148.6 625.0 L1146.1 625.0 L1143.6 625.0 L1141.1 625.0 L1138.6 625.0 L1136.1 625.0 L1133.6 625.0 L1131.1 625.1 L1128.6 625.1 L1126.1 625.1 L1123.6 625.1 L1121.0 625.1 L1118.5 625.1 L1116.0 625.1 L1113.5 625.1 L1111.0 625.2 L1108.5 625.2 L1106.0 625.2 L1103.5 625.2 L1101.0 625.2 L1098.5 625.2 L1096.0 625.2 L1093.5 625.3 L1091.0 625.3 L1088.5 625.3 L1086.0 625.3 L1083.5 625.3 L1081.0 625.3 L1078.5 625.4 L1076.0 625.4 L1073.5 625.4 L1071.0 625.4 L1068.5 625.4 L1066.0 625.4 L1063.5 625.5 L1061.0 625.5 L1058.5 625.5 L1056.0 625.5 L1053.5 625.5 L1051.0 625.5 L1048.5 625.6 L1046.0 625.6 L1043.5 625.6 L1041.0 625.6 L1038.5 625.6 L1036.0 625.6 L1033.5 625.7 L1031.0 625.7 L1028.5 625.7 L1026.0 625.7 L1023.5 625.7 L1021.0 625.8 L1018.4 625.8 L1015.9 625.8 L1013.4 625.8 L1010.9 625.8 L1008.4 625.8 L1005.9 625.9 L1003.4 625.9 L1000.9 625.9 L998.4 625.9 L995.9 625.9 L993.4 626.0 L990.9 626.0 L988.4 626.0 L985.9 626.0 L983.4 626.0 L980.9 626.0 L978.4 626.1 L975.9 626.1 L973.4 626.1 L970.9 626.1 L968.4 626.1 L965.9 626.2 L963.3 626.2 L960.8 626.2 L958.3 626.2 L955.8 626.2 L953.3 626.2 L950.8 626.3 L948.3 626.3 L945.8 626.3 L943.3 626.3 L940.8 626.3 L938.3 626.4 L935.8 626.4 L933.3 626.4 L930.8 626.4 L928.3 626.4 L925.8 626.4 L923.2 626.5 L920.7 626.5 L918.2 626.5 L915.7 626.5 L913.2 626.5 L910.7 626.5 L908.2 626.5 L905.7 626.6 L903.2 626.6 L900.7 626.6 L898.2 626.6 L895.7 626.6 L893.2 626.6 L890.6 626.7 L888.1 626.7 L885.6 626.7 L883.1 626.7 L880.6 626.7 L878.1 626.7 L875.6 626.7 L873.1 626.7 L870.6 626.8 L868.1 626.8 L865.5 626.8 L863.0 626.8 L860.5 626.8 L858.0 626.8 L855.5 626.8 L853.0 626.8 L850.5 626.8 L848.0 626.9 L845.5 626.9 L843.0 626.9 L840.4 626.9 L837.9 626.9 L835.4 626.9 L832.9 626.9 L830.4 626.9 L827.9 626.9 L825.4 626.9 L822.9 626.9 L820.3 626.9 L817.8 627.0 L815.3 627.0 L812.8 627.0 L810.3 627.0 L807.8 627.0 L805.3 627.0 L802.8 627.0 L800.2 627.0 L797.7 627.0 L795.2 627.0 L792.7 627.0 L790.2 627.0 L787.7 627.0 L785.2 627.0 L782.6 627.0 L780.1 627.0 L777.6 627.0 L775.1 627.0 L772.6 627.0 L770.1 627.0 L767.5 627.0 L765.0 627.0 L762.5 627.0 L760.0 627.0 L757.5 627.0 L755.0 627.0 L752.4 627.0 L749.9 627.0 L747.4 627.0 L744.9 627.0 L742.4 627.1 L739.9 627.1 L737.4 627.1 L734.8 627.1 L732.3 627.2 L729.8 627.2 L727.3 627.3 L724.8 627.3 L722.3 627.4 L719.8 627.4 L717.3 627.5 L714.8 627.6 L712.3 627.7 L709.8 627.8 L707.3 627.9 L704.8 628.0 L702.3 628.1 L699.8 628.2 L697.3 628.4 L694.8 628.5 L692.3 628.7 L689.8 628.9 L687.3 629.0 L684.8 629.2 L682.3 629.4 L679.9 629.7 L677.4 629.9 L674.9 630.1 L672.4 630.4 L669.9 630.7 L667.5 630.9 L665.0 631.2 L662.5 631.5 L660.1 631.9 L657.6 632.2 L655.1 632.6 L652.7 633.0 L650.2 633.3 L647.8 633.8 L645.3 634.2 L642.9 634.6 L640.4 635.1 L638.0 635.6 L635.6 636.1 L633.1 636.6 L630.7 637.1 L628.3 637.7 L625.8 638.2 L623.4 638.8 L621.0 639.5 L618.6 640.1 L616.2 640.8 L613.8 641.4 L611.3 642.1 L608.9 642.9 L606.5 643.6 L604.2 644.4 L601.8 645.2 L599.4 646.0 L597.0 646.9 L594.7 647.7 L592.3 648.7 L590.0 649.6 L587.7 650.6 L585.4 651.6 L583.2 652.7 L581.0 653.8 L578.8 655.0 L576.6 656.2 L574.5 657.4 L572.4 658.7 L570.3 660.1 L568.3 661.5 L566.4 663.0 L564.4 664.5 L562.6 666.1 L560.7 667.7 L559.0 669.5 L557.3 671.2 L555.6 673.1 L554.0 675.0 L552.4 677.0 L550.9 679.0 L549.5 681.0 L548.0 683.1 L546.6 685.3 L545.2 687.4 L543.9 689.6 L542.5 691.8 L541.2 694.0 L539.8 696.2 L538.5 698.4 L537.2 700.5 L535.8 702.7 L534.4 704.8 L533.1 706.9 L531.7 709.0 L530.3 711.1 L528.9 713.2 L527.5 715.2 L526.1 717.3 L524.7 719.3 L523.3 721.3 L521.9 723.4 L520.4 725.4 L519.0 727.4 L517.6 729.4 L516.1 731.4 L514.7 733.5 L513.3 735.5 L511.9 737.5 L510.4 739.5 L509.0 741.6 L507.6 743.6 L506.3 745.7 L504.9 747.7 L503.5 749.8 L502.2 751.9 L500.8 753.9 L499.5 756.0 L498.2 758.2 L497.0 760.3 L495.7 762.4 L494.5 764.6 L493.3 766.8 L492.1 769.0 L490.9 771.2 L489.7 773.4 L488.6 775.7 L487.5 777.9 L486.4 780.2 L485.3 782.4 L484.2 784.7 L483.2 787.0 L482.1 789.3 L481.1 791.6 L480.1 793.9 L479.1 796.3 L478.1 798.6 L477.1 801.0 L476.1 803.3 L475.2 805.7 L474.2 808.0 L473.3 810.4 L472.4 812.7 L471.5 815.1 L470.6 817.5 L469.7 819.9 L468.8 822.2 L467.9 824.6 L467.0 827.0 L466.1 829.4 L465.3 831.7 L464.4 834.1 L463.5 836.5 L462.7 838.9 L461.8 841.2 L461.0 843.6 L460.1 845.9 L459.3 848.3 L458.4 850.6 L457.6 853.0 L456.7 855.3 L455.9 857.6 L455.0 860.0 L454.1 862.3 L453.3 864.6 L452.4 866.9 L451.6 869.2 L450.7 871.5 L449.9 873.8 L449.0 876.0 L448.2 878.3 L447.3 880.6 L446.4 882.9 L445.6 885.2 L444.7 887.5 L443.9 889.7 L443.0 892.0 L442.1 894.3 L441.3 896.6 L440.4 898.9 L439.6 901.2 L438.7 903.5 L437.9 905.9 L437.0 908.2 L436.2 910.5 L435.3 912.9 L434.5 915.2 L433.6 917.6 L432.8 920.0 L432.0 922.4 L431.1 924.8 L430.3 927.2 L429.4 929.6 L428.6 932.0 L427.8 934.5 L427.0 937.0 L426.1 939.5 L425.3 942.0 L424.5 944.5 L423.7 947.0 L422.9 949.6 L422.0 952.2 L421.2 954.7 L420.3 957.3 L419.4 959.8 L418.5 962.4 L417.6 964.9 L416.6 967.4 L415.5 969.9 L414.4 972.3 L413.3 974.8 L412.1 977.1 L410.8 979.4 L409.4 981.7 L408.0 983.9 L406.5 986.0 L404.9 988.1 L403.2 990.0 L401.5 991.7 L399.7 993.1 L397.9 994.4 L396.0 995.3 L394.2 995.8 L392.3 996.0 L390.4 995.8 L388.5 995.2 L386.6 994.3 L384.7 993.2 L382.8 991.7 L381.0 990.1 L379.1 988.3 L377.3 986.3 L375.5 984.2 L373.8 982.1 L372.1 979.9 L370.5 977.7 L368.9 975.5 L367.3 973.2 L365.8 970.9 L364.2 968.6 L362.8 966.3 L361.3 964.0 L359.8 961.7 L358.4 959.3 L357.0 957.0 L355.6 954.7 L354.2 952.4 L352.8 950.1 L351.4 947.9 L350.0 945.7 L348.6 943.5 L347.2 941.3 L345.8 939.2 L344.3 937.1 L342.9 935.1 L341.4 933.1 L340.0 931.1 L338.5 929.1 L337.0 927.2 L335.5 925.3 L334.0 923.4 L332.4 921.6 L330.9 919.7 L329.3 917.9 L327.7 916.1 L326.1 914.4 L324.4 912.6 L322.8 910.9 L321.1 909.2 L319.3 907.4 L317.6 905.7 L315.8 904.0 L314.0 902.4 L312.2 900.7 L310.3 899.0 L308.4 897.3 L306.5 895.7 L304.6 894.0 L302.6 892.3 L300.6 890.7 L298.5 889.0 L299.6 886.7 L300.7 884.4 L301.8 882.2 L303.0 879.9 L304.1 877.7 L305.3 875.4 L306.5 873.2 L307.7 871.0 L309.0 868.9 L310.2 866.7 L311.5 864.6 L312.8 862.4 L314.1 860.3 L315.5 858.2 L316.8 856.1 L318.2 854.0 L319.6 852.0 L321.0 849.9 L322.4 847.9 L323.9 845.8 L325.3 843.8 L326.8 841.8 L328.3 839.8 L329.8 837.9 L331.3 835.9 L332.9 834.0 L334.4 832.0 L336.0 830.1 L337.6 828.2 L339.2 826.3 L340.8 824.4 L342.4 822.6 L344.1 820.7 L345.7 818.8 L347.4 817.0 L349.1 815.2 L350.8 813.4 L352.5 811.6 L354.3 809.8 L356.0 808.0 L357.8 806.3 L359.6 804.5 L361.3 802.8 L363.1 801.1 L365.0 799.3 L366.8 797.6 L368.6 795.9 L370.5 794.3 L372.3 792.6 L374.2 790.9 L376.1 789.3 L378.0 787.7 L379.9 786.0 L381.8 784.4 L383.7 782.8 L385.7 781.2 L387.6 779.6 L389.6 778.1 L391.6 776.5 L393.5 774.9 L395.5 773.4 L397.5 771.9 L399.5 770.3 L401.5 768.8 L403.6 767.3 L405.6 765.8 L407.6 764.3 L409.7 762.9 L411.8 761.4 L413.8 759.9 L415.9 758.5 L418.0 757.0 L420.0 755.6 L422.1 754.2 L424.2 752.7 L426.3 751.3 L428.4 749.9 L430.5 748.5 L432.6 747.1 L434.7 745.6 L436.8 744.2 L438.9 742.8 L441.0 741.4 L443.1 740.0 L445.2 738.6 L447.3 737.2 L449.4 735.8 L451.5 734.4 L453.5 733.0 L455.6 731.6 L457.7 730.2 L459.8 728.8 L461.8 727.3 L463.9 725.9 L465.9 724.5 L468.0 723.1 L470.0 721.6 L472.0 720.2 L474.0 718.7 L476.0 717.3 L478.0 715.8 L480.0 714.3 L482.0 712.8 L484.0 711.3 L485.9 709.8 L487.8 708.3 L489.8 706.8 L491.7 705.3 L493.6 703.7 L495.4 702.2 L497.3 700.6 L499.2 699.0 L501.0 697.4 L502.8 695.8 L504.7 694.2 L506.5 692.6 L508.3 691.0 L510.1 689.3 L511.8 687.6 L513.6 686.0 L515.4 684.3 L517.1 682.6 L518.9 680.8 L520.6 679.1 L522.3 677.4 L524.0 675.6 L525.7 673.8 L527.5 672.0 L529.1 670.2 L530.8 668.4 L532.5 666.5 L534.2 664.7 L535.9 662.8 L537.5 660.9 L539.2 659.0 L540.8 657.1 L542.5 655.1 L544.1 653.2 L545.8 651.2 L547.4 649.2 L549.0 647.2 L550.7 645.1 L552.3 643.1 L553.9 641.0 L555.6 638.9 L557.2 636.9 L558.8 634.8 L560.5 632.8 L562.1 630.7 L563.8 628.7 L565.5 626.7 L567.1 624.7 L568.9 622.7 L570.6 620.8 L572.3 618.9 L574.1 617.0 L575.8 615.2 L577.6 613.4 L579.5 611.7 L581.3 610.0 L583.2 608.4 L585.1 606.9 L587.0 605.4 L589.0 604.0 L591.0 602.7 L593.0 601.4 L595.1 600.2 L597.2 599.2 L599.4 598.2 L601.6 597.2 L603.8 596.4 L606.1 595.7 L608.4 595.1 L610.7 594.5 L613.1 594.0 L615.5 593.5 L617.9 593.1 L620.3 592.8 L622.8 592.5 L625.3 592.3 L627.7 592.0 L630.2 591.9 L632.8 591.7 L635.3 591.5 L637.8 591.4 L640.3 591.3 L642.8 591.1 L645.4 591.0 L647.9 590.9 L650.4 590.7 L652.9 590.6 L655.5 590.5 L658.0 590.4 L660.5 590.2 L663.0 590.1 L665.5 590.0 L668.1 589.9 L670.6 589.8 L673.1 589.7 L675.6 589.5 L678.1 589.4 L680.7 589.3 L683.2 589.2 L685.7 589.1 L688.2 589.0 L690.7 588.9 L693.2 588.8 L695.8 588.7 L698.3 588.6 L700.8 588.5 L703.3 588.4 L705.8 588.3 L708.3 588.2 L710.9 588.1 L713.4 588.0 L715.9 587.9 L718.4 587.8 L720.9 587.7 L723.4 587.7 L726.0 587.6 L728.5 587.5 L731.0 587.4 L733.5 587.3 L736.0 587.2 L738.5 587.2 L741.0 587.1 L743.5 587.0 L746.1 586.9 L748.6 586.8 L751.1 586.8 L753.6 586.7 L756.1 586.6 L758.6 586.5 L761.1 586.5 L763.6 586.4 L766.1 586.3 L768.7 586.3 L771.2 586.2 L773.7 586.1 L776.2 586.1 L778.7 586.0 L781.2 585.9 L783.7 585.9 L786.2 585.8 L788.7 585.8 L791.2 585.7 L793.7 585.6 L796.3 585.6 L798.8 585.5 L801.3 585.5 L803.8 585.4 L806.3 585.4 L808.8 585.3 L811.3 585.2 L813.8 585.2 L816.3 585.1 L818.8 585.1 L821.3 585.0 L823.8 585.0 L826.3 584.9 L828.8 584.9 L831.3 584.8 L833.8 584.8 L836.3 584.8 L838.9 584.7 L841.4 584.7 L843.9 584.6 L846.4 584.6 L848.9 584.5 L851.4 584.5 L853.9 584.4 L856.4 584.4 L858.9 584.4 L861.4 584.3 L863.9 584.3 L866.4 584.2 L868.9 584.2 L871.4 584.2 L873.9 584.1 L876.4 584.1 L878.9 584.1 L881.4 584.0 L883.9 584.0 L886.4 584.0 L888.9 583.9 L891.4 583.9 L893.9 583.9 L896.4 583.8 L898.9 583.8 L901.4 583.8 L903.9 583.7 L906.4 583.7 L908.9 583.7 L911.4 583.6 L913.9 583.6 L916.4 583.6 L918.9 583.5 L921.4 583.5 L923.9 583.5 L926.4 583.4 L928.9 583.4 L931.4 583.4 L933.9 583.4 L936.4 583.3 L938.9 583.3 L941.4 583.3 L943.9 583.2 L946.4 583.2 L948.9 583.2 L951.4 583.2 L953.9 583.1 L956.4 583.1 L958.9 583.1 L961.4 583.0 L963.9 583.0 L966.4 583.0 L968.9 583.0 L971.4 582.9 L973.9 582.9 L976.4 582.9 L978.9 582.9 L981.4 582.8 L983.9 582.8 L986.4 582.8 L988.9 582.7 L991.4 582.7 L993.9 582.7 L996.4 582.7 L998.9 582.6 L1001.4 582.6 L1003.9 582.6 L1006.4 582.6 L1008.9 582.5 L1011.4 582.5 L1013.9 582.5 L1016.4 582.4 L1018.9 582.4 L1021.4 582.4 L1023.9 582.4 L1026.4 582.3 L1028.9 582.3 L1031.4 582.3 L1033.9 582.2 L1036.4 582.2 L1038.9 582.2 L1041.4 582.1 L1043.9 582.1 L1046.4 582.1 L1048.9 582.1 L1051.4 582.0 L1053.9 582.0 L1056.4 582.0 L1058.9 581.9 L1061.4 581.9 L1063.9 581.9 L1066.4 581.8 L1068.9 581.8 L1071.3 581.7 L1073.8 581.7 L1076.3 581.7 L1078.8 581.6 L1081.3 581.6 L1083.8 581.6 L1086.3 581.5 L1088.8 581.5 L1091.3 581.4 L1093.8 581.4 L1096.3 581.4 L1098.8 581.3 L1101.3 581.3 L1103.8 581.2 L1106.3 581.2 L1108.8 581.2 L1111.3 581.1 L1113.8 581.1 L1116.3 581.0 L1118.8 581.0 L1121.3 580.9 L1123.8 580.9 L1126.3 580.8 L1128.8 580.8 L1131.3 580.7 L1133.8 580.7 L1136.3 580.6 L1138.8 580.6 L1141.3 580.5 L1143.8 580.5 L1146.3 580.4 L1148.8 580.4 L1151.3 580.3 L1153.8 580.3 L1156.3 580.2 L1158.8 580.1 L1161.3 580.1 L1163.8 580.0 L1166.3 580.0 L1168.8 579.9 L1171.3 579.8 L1173.8 579.8 L1176.3 579.7 L1178.8 579.7 L1181.3 579.6 L1183.8 579.5 L1186.3 579.4 L1188.8 579.4 L1191.3 579.3 L1193.8 579.2 L1196.3 579.2 L1198.8 579.1 L1201.3 579.0 L1203.8 578.9 L1206.3 578.9 L1208.8 578.8 L1211.3 578.7 L1213.8 578.6 L1216.3 578.6 L1218.8 578.5 L1221.3 578.4 L1223.8 578.3 L1226.3 578.2 L1228.9 578.1 L1231.4 578.0 L1233.9 578.0 L1236.4 577.9 L1238.9 577.8 L1241.4 577.7 L1243.9 577.6 L1246.4 577.5 L1248.9 577.4 L1251.4 577.3 L1253.9 577.2 L1256.4 577.1 L1258.9 577.0 L1261.4 576.9 L1263.9 576.8 L1266.4 576.7 L1268.9 576.6 L1271.4 576.5 L1273.9 576.4 L1276.4 576.3 L1278.9 576.1 L1281.5 576.0 L1284.0 575.9 L1286.5 575.8 L1289.0 575.7 L1291.5 575.6 L1294.0 575.4 L1296.5 575.3 L1299.0 575.2 L1301.5 575.0 L1304.0 574.9 L1306.5 574.8 L1309.0 574.6 L1311.5 574.5 L1314.0 574.4 L1316.5 574.2 L1319.1 574.0 L1321.6 573.9 L1324.1 573.7 L1326.6 573.6 L1329.1 573.4 L1331.6 573.2 L1334.1 573.0 L1336.6 572.9 L1339.1 572.7 L1341.6 572.5 L1344.1 572.3 L1346.6 572.1 L1349.1 571.9 L1351.6 571.6 L1354.1 571.4 L1356.6 571.2 L1359.1 571.0 L1361.6 570.7 L1364.1 570.5 L1366.6 570.2 L1369.1 570.0 L1371.6 569.7 L1374.0 569.4 L1376.5 569.1 L1379.0 568.8 L1381.5 568.5 L1384.0 568.2 L1386.5 567.9 L1389.0 567.6 L1391.5 567.3 L1393.9 566.9 L1396.4 566.6 L1398.9 566.2 L1401.4 565.9 L1403.8 565.5 L1406.3 565.1 L1408.8 564.7 L1411.3 564.3 L1413.7 563.9 L1416.2 563.5 L1418.7 563.1 L1421.1 562.6 L1423.6 562.2 L1426.1 561.8 L1428.5 561.3 L1431.0 560.9 L1433.5 560.5 L1435.9 560.0 L1438.4 559.6 L1440.9 559.2 L1443.3 558.8 L1445.8 558.3 L1448.2 557.9 L1450.7 557.5 L1453.2 557.1 L1455.6 556.8 L1458.1 556.4 L1460.6 556.0 L1463.0 555.7 L1465.5 555.4 L1468.0 555.1 L1470.4 554.8 L1472.9 554.5 L1475.4 554.2 L1477.8 554.0 L1480.3 553.8 L1482.8 553.6 L1485.2 553.4 L1487.7 553.3 L1490.2 553.1 L1492.7 553.0 L1495.2 553.0 L1497.6 552.9 L1500.1 552.9 L1502.6 553.0 L1505.1 553.0 L1507.6 553.1 L1510.1 553.2 L1512.6 553.3 L1515.1 553.5 L1517.6 553.7 L1520.1 553.8 L1522.6 554.1 L1525.1 554.3 L1527.6 554.5 L1530.1 554.8 L1532.6 555.1 L1535.1 555.3 L1537.6 555.6 L1540.1 555.9 L1542.6 556.2 L1545.1 556.5 L1547.7 556.8 L1550.2 557.1 L1552.7 557.4 L1555.2 557.7 L1557.7 558.0 L1560.2 558.3 L1562.7 558.6 L1565.2 558.9 L1567.8 559.2 L1570.3 559.4 L1572.8 559.6 L1575.3 559.9 L1577.8 560.1 L1580.3 560.3 L1582.8 560.4 L1585.3 560.6 L1587.9 560.7 L1590.4 560.8 L1592.9 560.9 L1595.4 561.0 L1597.9 561.1 L1600.4 561.1 L1602.9 561.2 L1605.4 561.2 L1607.9 561.2 L1610.4 561.3 L1612.9 561.3 L1615.4 561.3 L1617.9 561.3 L1620.4 561.3 L1622.9 561.2 L1625.4 561.2 L1627.9 561.2 L1630.4 561.2 L1632.9 561.2 L1635.4 561.2 L1637.9 561.2 L1640.4 561.2 L1642.9 561.2 L1645.4 561.2 L1647.9 561.2 L1650.4 561.2 L1652.9 561.2 L1655.4 561.2 L1657.8 561.2 L1660.3 561.2 L1662.8 561.3 L1665.3 561.3 L1667.8 561.3 L1670.3 561.3 L1672.8 561.3 L1675.2 561.3 L1677.7 561.4 L1680.2 561.4 L1682.7 561.4 L1685.2 561.4 L1687.7 561.4 L1690.2 561.4 L1692.7 561.4 L1695.2 561.4 L1697.7 561.4 L1700.1 561.4 L1702.6 561.4 L1705.1 561.4 L1707.6 561.3 L1710.1 561.3 L1712.6 561.3 L1715.1 561.3 L1717.6 561.2 L1720.1 561.2 L1722.6 561.1 L1725.2 561.0 L1727.7 561.0 L1730.2 560.9 L1732.7 560.8 L1735.2 560.7 L1737.7 560.6 L1740.2 560.5 L1742.8 560.3 L1745.3 560.2 L1747.8 560.1 L1750.4 559.9 L1752.9 559.7 L1755.4 559.6 L1758.0 559.4 L1760.5 559.2 L1763.0 558.9 L1765.6 558.7 L1768.1 558.4 L1770.6 558.2 L1773.2 557.9 L1775.7 557.5 L1778.2 557.2 L1780.7 556.8 L1783.2 556.4 L1785.7 556.0 L1788.2 555.6 L1790.7 555.1 L1793.1 554.6 L1795.6 554.0 L1798.0 553.4 L1800.4 552.8 L1802.8 552.2 L1805.2 551.5 L1807.6 550.7 L1809.9 549.9 L1812.2 549.1 L1814.5 548.3 L1816.8 547.4 L1819.1 546.4 L1821.3 545.4 L1823.6 544.3 L1825.8 543.2 L1827.9 542.1 L1830.1 540.9 L1832.2 539.7 L1834.3 538.4 L1836.4 537.1 L1838.4 535.7 L1840.4 534.3 L1842.4 532.8 L1844.4 531.3 L1846.3 529.8 L1848.3 528.3 L1850.2 526.7 L1852.0 525.0 L1853.9 523.3 L1855.7 521.6 L1857.5 519.9 L1859.3 518.1 L1861.0 516.3 L1862.7 514.5 L1864.4 512.6 L1866.1 510.7 L1867.7 508.8 L1869.4 506.9 L1871.0 504.9 L1872.5 502.9 L1874.1 500.9 L1875.6 498.8 L1877.1 496.8 L1878.5 494.7 L1880.0 492.6 L1881.4 490.5 L1882.9 488.4 L1884.3 486.2 L1885.7 484.1 L1887.1 481.9 L1888.5 479.8 L1889.9 477.6 L1891.3 475.5 L1892.7 473.3 L1894.2 471.2 L1895.6 469.0 L1897.1 466.9 L1898.5 464.7 L1900.0 462.6 L1901.5 460.5 L1903.1 458.4 L1904.7 456.4 L1906.3 454.3 L1907.9 452.3 L1909.6 450.3 L1911.3 448.3 L1913.1 446.3 L1914.9 444.4 L1916.7 442.6 L1918.6 440.9 L1920.4 439.4 L1922.3 438.0 L1924.1 437.0 L1926.0 436.2 L1927.7 435.9 L1929.5 435.9 L1931.1 436.3 L1932.7 437.2 L1934.2 438.7 L1935.6 440.7 L1936.9 443.1 L1938.2 445.8 L1939.5 448.7 L1940.8 451.7 L1942.0 454.6 L1943.4 457.4 L1944.8 460.0 L1946.2 462.1 L1947.8 463.8 L1949.5 464.8 L1951.4 465.2 L1953.4 464.9 L1955.5 464.0 L1957.7 462.6 L1959.9 460.8 L1962.2 458.7 L1964.5 456.3 L1966.7 453.9 L1968.9 451.4 L1971.0 449.0"/>
</g>
<g stroke-width="14" stroke-linecap="round">
<line x1="312" y1="117" x2="472" y2="117" stroke="#ff0000"/>
<line x1="312" y1="260.5" x2="472" y2="260.5" stroke="#548235" stroke-width="13"/>
<line x1="312" y1="404" x2="472" y2="404" stroke="#000000"/>
</g>
<text class="lg" transform="scale(0.9132 1)" x="535.3 572.3 592.3 624.2 680.3 700.3 726.1 772.3 817.1" y="134.8">15 mg DNA</text>
<text class="lg" transform="scale(0.9367 1)" x="521.1 541.1 572.8 626.5 646.5 670.8 716.1 759.9" y="278.8">5 mg DNA</text>
<text class="lg" transform="scale(0.9222 1)" x="529.4 575.9 595.9 626.7 671.6 716.7" y="421.6">No DNA</text>
<text class="tk" x="152.5" y="108" text-anchor="end">250</text>
<text class="tk" x="152.5" y="513.4" text-anchor="end">50</text>
<text class="tk" x="152.5" y="917" text-anchor="end">-150</text>
<text class="tk" x="152.5" y="1322" text-anchor="end">-350</text>
<text class="tx" x="214.3" y="1409" text-anchor="middle">-1.8</text>
<text class="tx" x="629.8" y="1409" text-anchor="middle">-1.3</text>
<text class="tx" x="1044.6" y="1409" text-anchor="middle">-0.8</text>
<text class="tx" x="1460.6" y="1409" text-anchor="middle">-0.3</text>
<text class="tx" x="1875.7" y="1409" text-anchor="middle">0.2</text>
<text class="ti" transform="scale(0.8001 1)" x="1959.1 1979.1 2024.5 2052.8 2106.2 2151.7 2175.3 2204.3" y="1439">E (Volt)</text>
<text class="ti" transform="translate(137 340) rotate(-90) scale(0.7856 1)" x="-4.6 15.4 36.1 67.4 115.3 168.8" y="0">I (μA)</text>
</svg>
</body></html>
